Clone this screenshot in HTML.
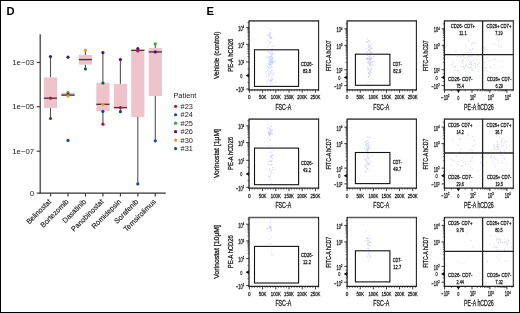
<!DOCTYPE html>
<html><head><meta charset="utf-8"><style>
html,body{margin:0;padding:0;background:#fff;}
svg{display:block;font-family:"Liberation Sans", sans-serif;}
.e text{font-weight:normal;stroke:#222;stroke-width:0.3px;}
svg{will-change:transform;}
</style></head><body>
<svg width="520" height="313" viewBox="0 0 520 313">
<text x="6.6" y="14.6" font-size="11.2" text-anchor="start" font-weight="bold" fill="#000" >D</text><text x="206.6" y="14.6" font-size="11.2" text-anchor="start" font-weight="bold" fill="#000" >E</text><line x1="50.5" y1="56.6" x2="50.5" y2="77.3" stroke="#555555" stroke-width="1.1" /><line x1="50.5" y1="108.0" x2="50.5" y2="118.5" stroke="#555555" stroke-width="1.1" /><rect x="43.9" y="77.3" width="13.2" height="30.700000000000003" fill="#eec3cb" stroke="none" stroke-width="1" /><line x1="43.9" y1="98.2" x2="57.1" y2="98.2" stroke="#4a3a3e" stroke-width="1.4" /><circle cx="50.5" cy="56.6" r="1.6" fill="#48146e"/><circle cx="50.5" cy="98.2" r="1.6" fill="#c8102e"/><circle cx="50.5" cy="118.5" r="1.6" fill="#144b94"/><rect x="61.4" y="92.6" width="13.2" height="3.3000000000000114" fill="#eec3cb" stroke="none" stroke-width="1" /><line x1="61.4" y1="95.1" x2="74.6" y2="95.1" stroke="#4a3a3e" stroke-width="1.4" /><circle cx="68.0" cy="57.2" r="1.6" fill="#48146e"/><circle cx="68.0" cy="92.5" r="1.6" fill="#2fae48"/><circle cx="68.0" cy="94.3" r="1.6" fill="#c8102e"/><circle cx="68.0" cy="96.0" r="1.6" fill="#f7931e"/><circle cx="68.0" cy="140.4" r="1.6" fill="#144b94"/><line x1="85.4" y1="50.2" x2="85.4" y2="55.0" stroke="#555555" stroke-width="1.1" /><line x1="85.4" y1="64.6" x2="85.4" y2="69.0" stroke="#555555" stroke-width="1.1" /><rect x="78.80000000000001" y="55.0" width="13.2" height="9.599999999999994" fill="#eec3cb" stroke="none" stroke-width="1" /><line x1="78.80000000000001" y1="59.6" x2="92.0" y2="59.6" stroke="#4a3a3e" stroke-width="1.4" /><circle cx="85.4" cy="50.2" r="1.6" fill="#f7931e"/><circle cx="85.4" cy="69.0" r="1.6" fill="#0d5c45"/><line x1="102.9" y1="52.6" x2="102.9" y2="82.7" stroke="#555555" stroke-width="1.1" /><line x1="102.9" y1="111.2" x2="102.9" y2="124.2" stroke="#555555" stroke-width="1.1" /><rect x="96.30000000000001" y="82.7" width="13.2" height="28.5" fill="#eec3cb" stroke="none" stroke-width="1" /><line x1="96.30000000000001" y1="104.3" x2="109.5" y2="104.3" stroke="#4a3a3e" stroke-width="1.4" /><circle cx="102.9" cy="52.6" r="1.6" fill="#48146e"/><circle cx="102.9" cy="83.0" r="1.6" fill="#0d5c45"/><circle cx="102.9" cy="104.3" r="1.6" fill="#f7931e"/><circle cx="102.9" cy="111.4" r="1.6" fill="#144b94"/><circle cx="102.9" cy="124.2" r="1.6" fill="#c8102e"/><line x1="120.4" y1="59.5" x2="120.4" y2="83.9" stroke="#555555" stroke-width="1.1" /><line x1="120.4" y1="108.6" x2="120.4" y2="111.7" stroke="#555555" stroke-width="1.1" /><rect x="113.80000000000001" y="83.9" width="13.2" height="24.69999999999999" fill="#eec3cb" stroke="none" stroke-width="1" /><line x1="113.80000000000001" y1="107.6" x2="127.0" y2="107.6" stroke="#4a3a3e" stroke-width="1.4" /><circle cx="120.4" cy="59.5" r="1.6" fill="#48146e"/><circle cx="120.4" cy="107.6" r="1.6" fill="#c8102e"/><circle cx="120.4" cy="111.7" r="1.6" fill="#144b94"/><line x1="137.8" y1="48.6" x2="137.8" y2="50.0" stroke="#555555" stroke-width="1.1" /><line x1="137.8" y1="117.0" x2="137.8" y2="183.9" stroke="#555555" stroke-width="1.1" /><rect x="131.20000000000002" y="50.0" width="13.2" height="67.0" fill="#eec3cb" stroke="none" stroke-width="1" /><line x1="131.20000000000002" y1="50.3" x2="144.4" y2="50.3" stroke="#4a3a3e" stroke-width="1.4" /><circle cx="137.8" cy="48.6" r="1.6" fill="#48146e"/><circle cx="137.8" cy="50.9" r="1.6" fill="#c8102e"/><circle cx="137.8" cy="183.9" r="1.6" fill="#144b94"/><line x1="155.3" y1="43.8" x2="155.3" y2="48.0" stroke="#555555" stroke-width="1.1" /><line x1="155.3" y1="96.1" x2="155.3" y2="140.8" stroke="#555555" stroke-width="1.1" /><rect x="148.70000000000002" y="48.0" width="13.2" height="48.099999999999994" fill="#eec3cb" stroke="none" stroke-width="1" /><line x1="148.70000000000002" y1="51.9" x2="161.9" y2="51.9" stroke="#4a3a3e" stroke-width="1.4" /><circle cx="155.3" cy="43.8" r="1.6" fill="#2fae48"/><circle cx="155.3" cy="51.9" r="1.6" fill="#48146e"/><circle cx="155.3" cy="140.8" r="1.6" fill="#144b94"/><line x1="40.2" y1="34.3" x2="40.2" y2="193.6" stroke="#333333" stroke-width="1.2" /><line x1="39.6" y1="193.1" x2="165.8" y2="193.1" stroke="#333333" stroke-width="1.2" /><line x1="36.7" y1="62.4" x2="40.2" y2="62.4" stroke="#333333" stroke-width="1.1" /><text x="34.2" y="65.0" font-size="7.8" text-anchor="end" font-weight="normal" fill="#222" >1e−03</text><line x1="36.7" y1="106.7" x2="40.2" y2="106.7" stroke="#333333" stroke-width="1.1" /><text x="34.2" y="109.3" font-size="7.8" text-anchor="end" font-weight="normal" fill="#222" >1e−05</text><line x1="36.7" y1="151.2" x2="40.2" y2="151.2" stroke="#333333" stroke-width="1.1" /><text x="34.2" y="153.79999999999998" font-size="7.8" text-anchor="end" font-weight="normal" fill="#222" >1e−07</text><line x1="36.7" y1="193.1" x2="40.2" y2="193.1" stroke="#333333" stroke-width="1.1" /><text x="34.2" y="195.7" font-size="7.8" text-anchor="end" font-weight="normal" fill="#222" >0</text><line x1="50.6" y1="193.1" x2="50.6" y2="196.6" stroke="#333333" stroke-width="1.1" /><text x="51.7" y="202.1" font-size="7.25" text-anchor="end" font-weight="normal" fill="#1a1a1a" transform="rotate(-45 51.7 202.1)" stroke="#1a1a1a" stroke-width="0.15">Belinostat</text><line x1="68.05" y1="193.1" x2="68.05" y2="196.6" stroke="#333333" stroke-width="1.1" /><text x="69.14999999999999" y="202.1" font-size="7.25" text-anchor="end" font-weight="normal" fill="#1a1a1a" transform="rotate(-45 69.14999999999999 202.1)" stroke="#1a1a1a" stroke-width="0.15">Bortezomib</text><line x1="85.5" y1="193.1" x2="85.5" y2="196.6" stroke="#333333" stroke-width="1.1" /><text x="86.6" y="202.1" font-size="7.25" text-anchor="end" font-weight="normal" fill="#1a1a1a" transform="rotate(-45 86.6 202.1)" stroke="#1a1a1a" stroke-width="0.15">Dasatinib</text><line x1="102.94999999999999" y1="193.1" x2="102.94999999999999" y2="196.6" stroke="#333333" stroke-width="1.1" /><text x="104.04999999999998" y="202.1" font-size="7.25" text-anchor="end" font-weight="normal" fill="#1a1a1a" transform="rotate(-45 104.04999999999998 202.1)" stroke="#1a1a1a" stroke-width="0.15">Panobinostat</text><line x1="120.4" y1="193.1" x2="120.4" y2="196.6" stroke="#333333" stroke-width="1.1" /><text x="121.5" y="202.1" font-size="7.25" text-anchor="end" font-weight="normal" fill="#1a1a1a" transform="rotate(-45 121.5 202.1)" stroke="#1a1a1a" stroke-width="0.15">Romidepsin</text><line x1="137.85" y1="193.1" x2="137.85" y2="196.6" stroke="#333333" stroke-width="1.1" /><text x="138.95" y="202.1" font-size="7.25" text-anchor="end" font-weight="normal" fill="#1a1a1a" transform="rotate(-45 138.95 202.1)" stroke="#1a1a1a" stroke-width="0.15">Sorafenib</text><line x1="155.29999999999998" y1="193.1" x2="155.29999999999998" y2="196.6" stroke="#333333" stroke-width="1.1" /><text x="156.39999999999998" y="202.1" font-size="7.25" text-anchor="end" font-weight="normal" fill="#1a1a1a" transform="rotate(-45 156.39999999999998 202.1)" stroke="#1a1a1a" stroke-width="0.15">Temsirolimus</text><text x="173.4" y="98.3" font-size="7.4" text-anchor="start" font-weight="normal" fill="#222" >Patient</text><circle cx="175.6" cy="106.3" r="1.6" fill="#c8102e"/><text x="180.6" y="108.89999999999999" font-size="7.4" text-anchor="start" font-weight="normal" fill="#222" >#23</text><circle cx="175.6" cy="114.75" r="1.6" fill="#144b94"/><text x="180.6" y="117.35" font-size="7.4" text-anchor="start" font-weight="normal" fill="#222" >#24</text><circle cx="175.6" cy="123.19999999999999" r="1.6" fill="#2fae48"/><text x="180.6" y="125.79999999999998" font-size="7.4" text-anchor="start" font-weight="normal" fill="#222" >#25</text><circle cx="175.6" cy="131.65" r="1.6" fill="#48146e"/><text x="180.6" y="134.25" font-size="7.4" text-anchor="start" font-weight="normal" fill="#222" >#26</text><circle cx="175.6" cy="140.1" r="1.6" fill="#f7931e"/><text x="180.6" y="142.7" font-size="7.4" text-anchor="start" font-weight="normal" fill="#222" >#30</text><circle cx="175.6" cy="148.55" r="1.6" fill="#0d5c45"/><text x="180.6" y="151.15" font-size="7.4" text-anchor="start" font-weight="normal" fill="#222" >#31</text><g class="e"><text x="219.3" y="55.3" font-size="7.8" text-anchor="middle" font-weight="normal" fill="#222" textLength="47.5" lengthAdjust="spacingAndGlyphs" transform="rotate(-90 219.3 55.3)" >Vehicle (control)</text><text x="219.3" y="153.6" font-size="7.8" text-anchor="middle" font-weight="normal" fill="#222" textLength="49.0" lengthAdjust="spacingAndGlyphs" transform="rotate(-90 219.3 153.6)" >Vorinostat [1μM]</text><text x="219.3" y="251.89999999999998" font-size="7.8" text-anchor="middle" font-weight="normal" fill="#222" textLength="53.9" lengthAdjust="spacingAndGlyphs" transform="rotate(-90 219.3 251.89999999999998)" >Vorinostat [10μM]</text><line x1="252.04" y1="89.8" x2="252.04" y2="91.39999999999999" stroke="#444" stroke-width="0.7" /><line x1="254.68" y1="89.8" x2="254.68" y2="91.39999999999999" stroke="#444" stroke-width="0.7" /><line x1="257.32" y1="89.8" x2="257.32" y2="91.39999999999999" stroke="#444" stroke-width="0.7" /><line x1="259.96" y1="89.8" x2="259.96" y2="91.39999999999999" stroke="#444" stroke-width="0.7" /><line x1="265.24" y1="89.8" x2="265.24" y2="91.39999999999999" stroke="#444" stroke-width="0.7" /><line x1="267.88" y1="89.8" x2="267.88" y2="91.39999999999999" stroke="#444" stroke-width="0.7" /><line x1="270.52" y1="89.8" x2="270.52" y2="91.39999999999999" stroke="#444" stroke-width="0.7" /><line x1="273.16" y1="89.8" x2="273.16" y2="91.39999999999999" stroke="#444" stroke-width="0.7" /><line x1="278.44" y1="89.8" x2="278.44" y2="91.39999999999999" stroke="#444" stroke-width="0.7" /><line x1="281.08" y1="89.8" x2="281.08" y2="91.39999999999999" stroke="#444" stroke-width="0.7" /><line x1="283.72" y1="89.8" x2="283.72" y2="91.39999999999999" stroke="#444" stroke-width="0.7" /><line x1="286.36" y1="89.8" x2="286.36" y2="91.39999999999999" stroke="#444" stroke-width="0.7" /><line x1="291.64" y1="89.8" x2="291.64" y2="91.39999999999999" stroke="#444" stroke-width="0.7" /><line x1="294.28" y1="89.8" x2="294.28" y2="91.39999999999999" stroke="#444" stroke-width="0.7" /><line x1="296.92" y1="89.8" x2="296.92" y2="91.39999999999999" stroke="#444" stroke-width="0.7" /><line x1="299.56" y1="89.8" x2="299.56" y2="91.39999999999999" stroke="#444" stroke-width="0.7" /><line x1="304.84000000000003" y1="89.8" x2="304.84000000000003" y2="91.39999999999999" stroke="#444" stroke-width="0.7" /><line x1="307.48" y1="89.8" x2="307.48" y2="91.39999999999999" stroke="#444" stroke-width="0.7" /><line x1="310.12" y1="89.8" x2="310.12" y2="91.39999999999999" stroke="#444" stroke-width="0.7" /><line x1="312.76" y1="89.8" x2="312.76" y2="91.39999999999999" stroke="#444" stroke-width="0.7" /><line x1="318.04" y1="89.8" x2="318.04" y2="91.39999999999999" stroke="#444" stroke-width="0.7" /><line x1="247.4" y1="56.67176907674753" x2="249.0" y2="56.67176907674753" stroke="#444" stroke-width="0.7" /><line x1="247.4" y1="53.55495379146197" x2="249.0" y2="53.55495379146197" stroke="#444" stroke-width="0.7" /><line x1="247.4" y1="51.34353815349506" x2="249.0" y2="51.34353815349506" stroke="#444" stroke-width="0.7" /><line x1="247.4" y1="49.62823092325247" x2="249.0" y2="49.62823092325247" stroke="#444" stroke-width="0.7" /><line x1="247.4" y1="48.22672286820951" x2="249.0" y2="48.22672286820951" stroke="#444" stroke-width="0.7" /><line x1="247.4" y1="47.04176469174765" x2="249.0" y2="47.04176469174765" stroke="#444" stroke-width="0.7" /><line x1="247.4" y1="46.0153072302426" x2="249.0" y2="46.0153072302426" stroke="#444" stroke-width="0.7" /><line x1="247.4" y1="45.109907582923945" x2="249.0" y2="45.109907582923945" stroke="#444" stroke-width="0.7" /><line x1="247.4" y1="39.272799072411516" x2="249.0" y2="39.272799072411516" stroke="#444" stroke-width="0.7" /><line x1="247.4" y1="36.332075046181636" x2="249.0" y2="36.332075046181636" stroke="#444" stroke-width="0.7" /><line x1="247.4" y1="34.24559814482303" x2="249.0" y2="34.24559814482303" stroke="#444" stroke-width="0.7" /><line x1="247.4" y1="32.62720092758848" x2="249.0" y2="32.62720092758848" stroke="#444" stroke-width="0.7" /><line x1="247.4" y1="31.30487411859315" x2="249.0" y2="31.30487411859315" stroke="#444" stroke-width="0.7" /><line x1="247.4" y1="30.186862731761913" x2="249.0" y2="30.186862731761913" stroke="#444" stroke-width="0.7" /><line x1="247.4" y1="29.218397217234546" x2="249.0" y2="29.218397217234546" stroke="#444" stroke-width="0.7" /><line x1="247.4" y1="28.364150092363275" x2="249.0" y2="28.364150092363275" stroke="#444" stroke-width="0.7" /><line x1="247.4" y1="22.572799072411517" x2="249.0" y2="22.572799072411517" stroke="#444" stroke-width="0.7" /><line x1="247.4" y1="68.8" x2="249.0" y2="68.8" stroke="#444" stroke-width="0.7" /><line x1="247.4" y1="82.3" x2="249.0" y2="82.3" stroke="#444" stroke-width="0.7" /><line x1="246.2" y1="27.6" x2="249.0" y2="27.6" stroke="#222" stroke-width="0.9" /><g transform="translate(244.20 31.00) scale(0.62 1)"><text x="0" y="0" font-size="6.4" text-anchor="end" fill="#333">10<tspan font-size="4.10" dy="-2.6">4</tspan></text></g><line x1="246.2" y1="44.3" x2="249.0" y2="44.3" stroke="#222" stroke-width="0.9" /><g transform="translate(244.20 47.70) scale(0.62 1)"><text x="0" y="0" font-size="6.4" text-anchor="end" fill="#333">10<tspan font-size="4.10" dy="-2.6">3</tspan></text></g><line x1="246.2" y1="62.0" x2="249.0" y2="62.0" stroke="#222" stroke-width="0.9" /><g transform="translate(244.20 65.40) scale(0.62 1)"><text x="0" y="0" font-size="6.4" text-anchor="end" fill="#333">10<tspan font-size="4.10" dy="-2.6">2</tspan></text></g><line x1="246.2" y1="75.6" x2="249.0" y2="75.6" stroke="#222" stroke-width="0.9" /><g transform="translate(241.20 77.90) scale(0.62 1)"><text x="0" y="0" font-size="6.2" text-anchor="middle" fill="#333">0</text></g><line x1="246.2" y1="89.0" x2="249.0" y2="89.0" stroke="#222" stroke-width="0.9" /><g transform="translate(244.20 92.40) scale(0.62 1)"><text x="0" y="0" font-size="6.4" text-anchor="end" fill="#333">−10<tspan font-size="4.10" dy="-2.6">2</tspan></text></g><path d="M249.0 73.40L246.00 75.60L249.0 77.80z" fill="#111"/><line x1="249.4" y1="89.8" x2="249.4" y2="92.8" stroke="#222" stroke-width="0.9" /><text x="249.4" y="99.39999999999999" font-size="5.6" text-anchor="middle" font-weight="normal" fill="#333" textLength="2.6" lengthAdjust="spacingAndGlyphs" >0</text><line x1="262.6" y1="89.8" x2="262.6" y2="92.8" stroke="#222" stroke-width="0.9" /><text x="262.6" y="99.39999999999999" font-size="5.6" text-anchor="middle" font-weight="normal" fill="#333" textLength="7.6" lengthAdjust="spacingAndGlyphs" >50K</text><line x1="275.8" y1="89.8" x2="275.8" y2="92.8" stroke="#222" stroke-width="0.9" /><text x="275.8" y="99.39999999999999" font-size="5.6" text-anchor="middle" font-weight="normal" fill="#333" textLength="9.9" lengthAdjust="spacingAndGlyphs" >100K</text><line x1="289.0" y1="89.8" x2="289.0" y2="92.8" stroke="#222" stroke-width="0.9" /><text x="289.0" y="99.39999999999999" font-size="5.6" text-anchor="middle" font-weight="normal" fill="#333" textLength="9.9" lengthAdjust="spacingAndGlyphs" >150K</text><line x1="302.2" y1="89.8" x2="302.2" y2="92.8" stroke="#222" stroke-width="0.9" /><text x="302.2" y="99.39999999999999" font-size="5.6" text-anchor="middle" font-weight="normal" fill="#333" textLength="9.9" lengthAdjust="spacingAndGlyphs" >200K</text><line x1="315.4" y1="89.8" x2="315.4" y2="92.8" stroke="#222" stroke-width="0.9" /><text x="315.4" y="99.39999999999999" font-size="5.6" text-anchor="middle" font-weight="normal" fill="#333" textLength="9.9" lengthAdjust="spacingAndGlyphs" >250K</text><text x="283.3" y="109.6" font-size="8.2" text-anchor="middle" font-weight="normal" fill="#222" textLength="15.8" lengthAdjust="spacingAndGlyphs" >FSC-A</text><text x="232.8" y="55.14999999999999" font-size="7.0" text-anchor="middle" font-weight="normal" fill="#222" textLength="33.0" lengthAdjust="spacingAndGlyphs" transform="rotate(-90 232.8 55.14999999999999)" >PE-A hCD26</text><path d="M269.4 38.3h0.9v0.9h-0.9zM269.5 34.6h0.9v0.9h-0.9zM268.5 35.0h0.9v0.9h-0.9zM271.4 37.9h0.9v0.9h-0.9zM271.3 37.1h0.9v0.9h-0.9zM270.4 36.8h0.9v0.9h-0.9zM267.5 39.8h0.9v0.9h-0.9zM270.5 38.2h0.9v0.9h-0.9zM267.4 28.2h0.9v0.9h-0.9zM268.6 33.9h0.9v0.9h-0.9zM270.2 35.8h0.9v0.9h-0.9zM270.5 33.1h0.9v0.9h-0.9zM270.2 37.8h0.9v0.9h-0.9zM268.9 43.7h0.9v0.9h-0.9zM270.6 41.4h0.9v0.9h-0.9zM268.9 32.7h0.9v0.9h-0.9zM269.3 35.5h0.9v0.9h-0.9zM270.7 37.1h0.9v0.9h-0.9zM269.2 31.7h0.9v0.9h-0.9zM269.1 41.5h0.9v0.9h-0.9zM268.7 37.1h0.9v0.9h-0.9zM270.4 29.3h0.9v0.9h-0.9zM269.9 41.9h0.9v0.9h-0.9zM267.0 34.6h0.9v0.9h-0.9zM269.7 32.3h0.9v0.9h-0.9zM270.8 58.7h0.9v0.9h-0.9zM267.7 63.1h0.9v0.9h-0.9zM271.1 63.7h0.9v0.9h-0.9zM272.3 60.8h0.9v0.9h-0.9zM270.2 52.5h0.9v0.9h-0.9zM271.0 55.9h0.9v0.9h-0.9zM269.3 52.7h0.9v0.9h-0.9zM268.5 56.3h0.9v0.9h-0.9zM272.1 48.8h0.9v0.9h-0.9zM267.7 60.2h0.9v0.9h-0.9zM272.3 61.9h0.9v0.9h-0.9zM267.0 46.4h0.9v0.9h-0.9zM270.6 55.3h0.9v0.9h-0.9zM268.2 63.9h0.9v0.9h-0.9zM271.8 59.8h0.9v0.9h-0.9zM270.4 61.2h0.9v0.9h-0.9zM272.6 62.1h0.9v0.9h-0.9zM270.8 61.7h0.9v0.9h-0.9zM267.5 65.4h0.9v0.9h-0.9zM271.5 61.6h0.9v0.9h-0.9zM266.8 55.8h0.9v0.9h-0.9zM271.3 49.9h0.9v0.9h-0.9zM269.7 64.1h0.9v0.9h-0.9zM267.9 67.1h0.9v0.9h-0.9zM270.9 58.2h0.9v0.9h-0.9zM270.5 62.2h0.9v0.9h-0.9zM270.2 64.7h0.9v0.9h-0.9zM268.9 56.9h0.9v0.9h-0.9zM271.7 59.1h0.9v0.9h-0.9zM268.6 63.7h0.9v0.9h-0.9zM272.3 56.8h0.9v0.9h-0.9zM267.8 58.3h0.9v0.9h-0.9zM269.8 57.5h0.9v0.9h-0.9zM272.2 53.9h0.9v0.9h-0.9zM272.0 52.7h0.9v0.9h-0.9zM268.7 62.2h0.9v0.9h-0.9zM271.8 63.3h0.9v0.9h-0.9zM270.6 59.7h0.9v0.9h-0.9zM270.2 61.9h0.9v0.9h-0.9zM269.7 60.4h0.9v0.9h-0.9zM270.9 59.0h0.9v0.9h-0.9zM271.2 61.8h0.9v0.9h-0.9zM273.2 60.6h0.9v0.9h-0.9zM269.3 57.1h0.9v0.9h-0.9zM270.0 63.6h0.9v0.9h-0.9zM269.5 60.9h0.9v0.9h-0.9zM272.9 46.2h0.9v0.9h-0.9zM268.2 60.2h0.9v0.9h-0.9zM270.6 60.2h0.9v0.9h-0.9zM269.3 62.3h0.9v0.9h-0.9zM270.5 56.4h0.9v0.9h-0.9zM273.9 60.8h0.9v0.9h-0.9zM269.1 58.5h0.9v0.9h-0.9zM269.6 58.7h0.9v0.9h-0.9zM265.6 56.6h0.9v0.9h-0.9zM271.6 53.2h0.9v0.9h-0.9zM269.9 63.8h0.9v0.9h-0.9zM271.4 66.5h0.9v0.9h-0.9zM267.3 57.2h0.9v0.9h-0.9zM269.5 62.1h0.9v0.9h-0.9zM271.7 45.6h0.9v0.9h-0.9zM271.7 51.8h0.9v0.9h-0.9zM271.1 51.5h0.9v0.9h-0.9zM270.3 65.0h0.9v0.9h-0.9zM269.8 60.0h0.9v0.9h-0.9zM271.3 59.7h0.9v0.9h-0.9zM269.9 66.7h0.9v0.9h-0.9zM271.7 57.5h0.9v0.9h-0.9zM274.4 53.3h0.9v0.9h-0.9zM271.5 57.7h0.9v0.9h-0.9zM270.2 62.5h0.9v0.9h-0.9zM270.4 62.2h0.9v0.9h-0.9zM267.6 51.5h0.9v0.9h-0.9zM271.0 54.2h0.9v0.9h-0.9zM268.4 51.6h0.9v0.9h-0.9zM272.0 62.7h0.9v0.9h-0.9zM272.4 54.3h0.9v0.9h-0.9zM270.0 53.3h0.9v0.9h-0.9zM271.2 66.9h0.9v0.9h-0.9zM268.6 66.8h0.9v0.9h-0.9zM271.6 58.1h0.9v0.9h-0.9zM266.8 66.0h0.9v0.9h-0.9zM269.8 56.0h0.9v0.9h-0.9zM270.6 61.0h0.9v0.9h-0.9zM272.4 53.9h0.9v0.9h-0.9zM271.8 66.4h0.9v0.9h-0.9zM272.3 58.1h0.9v0.9h-0.9zM268.8 64.1h0.9v0.9h-0.9zM270.2 59.6h0.9v0.9h-0.9zM272.3 57.7h0.9v0.9h-0.9zM266.1 71.3h0.9v0.9h-0.9zM266.9 79.7h0.9v0.9h-0.9zM270.8 69.7h0.9v0.9h-0.9zM270.2 79.8h0.9v0.9h-0.9zM270.3 83.3h0.9v0.9h-0.9zM270.1 81.3h0.9v0.9h-0.9zM272.9 85.3h0.9v0.9h-0.9zM269.0 80.2h0.9v0.9h-0.9zM266.8 66.4h0.9v0.9h-0.9zM266.7 81.5h0.9v0.9h-0.9zM268.0 73.9h0.9v0.9h-0.9zM269.9 73.8h0.9v0.9h-0.9zM269.1 75.6h0.9v0.9h-0.9zM273.4 74.3h0.9v0.9h-0.9zM271.2 81.0h0.9v0.9h-0.9zM269.8 65.2h0.9v0.9h-0.9zM269.2 81.5h0.9v0.9h-0.9zM267.2 69.8h0.9v0.9h-0.9zM272.0 79.5h0.9v0.9h-0.9zM270.2 79.6h0.9v0.9h-0.9zM270.5 65.7h0.9v0.9h-0.9zM267.4 69.5h0.9v0.9h-0.9zM271.9 70.0h0.9v0.9h-0.9zM268.6 68.6h0.9v0.9h-0.9zM267.4 73.2h0.9v0.9h-0.9zM268.1 76.5h0.9v0.9h-0.9zM266.0 76.3h0.9v0.9h-0.9zM269.0 60.4h0.9v0.9h-0.9zM271.5 72.1h0.9v0.9h-0.9zM266.2 67.9h0.9v0.9h-0.9zM270.7 70.8h0.9v0.9h-0.9zM271.6 79.2h0.9v0.9h-0.9zM271.4 76.3h0.9v0.9h-0.9zM272.6 78.6h0.9v0.9h-0.9zM271.0 59.4h0.9v0.9h-0.9zM271.8 83.2h0.9v0.9h-0.9zM269.7 70.7h0.9v0.9h-0.9zM273.7 61.7h0.9v0.9h-0.9zM268.5 78.8h0.9v0.9h-0.9zM273.6 73.2h0.9v0.9h-0.9zM271.2 80.3h0.9v0.9h-0.9zM268.6 73.4h0.9v0.9h-0.9zM270.7 79.8h0.9v0.9h-0.9zM270.1 72.6h0.9v0.9h-0.9zM268.4 71.5h0.9v0.9h-0.9zM271.8 74.7h0.9v0.9h-0.9zM268.7 68.1h0.9v0.9h-0.9zM275.0 82.0h0.9v0.9h-0.9zM271.3 55.8h0.9v0.9h-0.9zM271.3 77.4h0.9v0.9h-0.9z" fill="rgba(90,100,235,0.32)"/><line x1="249.0" y1="20.9" x2="319.1" y2="20.9" stroke="#5a5a5a" stroke-width="1.7" /><line x1="249.0" y1="20.4" x2="249.0" y2="90.39999999999999" stroke="#222" stroke-width="1.3" /><line x1="318.6" y1="20.4" x2="318.6" y2="90.39999999999999" stroke="#222" stroke-width="1.1" /><line x1="248.4" y1="89.8" x2="319.1" y2="89.8" stroke="#222" stroke-width="1.3" /><rect x="254.5" y="49.8" width="44.10000000000002" height="36.60000000000001" fill="none" stroke="#111" stroke-width="1.1" /><text x="307.0" y="65.6" font-size="5.9" text-anchor="middle" font-weight="normal" fill="#222" textLength="12.1" lengthAdjust="spacingAndGlyphs" >CD26-</text><text x="307.0" y="72.5" font-size="5.9" text-anchor="middle" font-weight="normal" fill="#222" textLength="8.0" lengthAdjust="spacingAndGlyphs" >83.8</text><line x1="349.72400000000005" y1="89.8" x2="349.72400000000005" y2="91.39999999999999" stroke="#444" stroke-width="0.7" /><line x1="352.348" y1="89.8" x2="352.348" y2="91.39999999999999" stroke="#444" stroke-width="0.7" /><line x1="354.97200000000004" y1="89.8" x2="354.97200000000004" y2="91.39999999999999" stroke="#444" stroke-width="0.7" /><line x1="357.596" y1="89.8" x2="357.596" y2="91.39999999999999" stroke="#444" stroke-width="0.7" /><line x1="362.84400000000005" y1="89.8" x2="362.84400000000005" y2="91.39999999999999" stroke="#444" stroke-width="0.7" /><line x1="365.468" y1="89.8" x2="365.468" y2="91.39999999999999" stroke="#444" stroke-width="0.7" /><line x1="368.09200000000004" y1="89.8" x2="368.09200000000004" y2="91.39999999999999" stroke="#444" stroke-width="0.7" /><line x1="370.716" y1="89.8" x2="370.716" y2="91.39999999999999" stroke="#444" stroke-width="0.7" /><line x1="375.964" y1="89.8" x2="375.964" y2="91.39999999999999" stroke="#444" stroke-width="0.7" /><line x1="378.588" y1="89.8" x2="378.588" y2="91.39999999999999" stroke="#444" stroke-width="0.7" /><line x1="381.21200000000005" y1="89.8" x2="381.21200000000005" y2="91.39999999999999" stroke="#444" stroke-width="0.7" /><line x1="383.836" y1="89.8" x2="383.836" y2="91.39999999999999" stroke="#444" stroke-width="0.7" /><line x1="389.084" y1="89.8" x2="389.084" y2="91.39999999999999" stroke="#444" stroke-width="0.7" /><line x1="391.708" y1="89.8" x2="391.708" y2="91.39999999999999" stroke="#444" stroke-width="0.7" /><line x1="394.332" y1="89.8" x2="394.332" y2="91.39999999999999" stroke="#444" stroke-width="0.7" /><line x1="396.956" y1="89.8" x2="396.956" y2="91.39999999999999" stroke="#444" stroke-width="0.7" /><line x1="402.204" y1="89.8" x2="402.204" y2="91.39999999999999" stroke="#444" stroke-width="0.7" /><line x1="404.82800000000003" y1="89.8" x2="404.82800000000003" y2="91.39999999999999" stroke="#444" stroke-width="0.7" /><line x1="407.452" y1="89.8" x2="407.452" y2="91.39999999999999" stroke="#444" stroke-width="0.7" /><line x1="410.076" y1="89.8" x2="410.076" y2="91.39999999999999" stroke="#444" stroke-width="0.7" /><line x1="415.324" y1="89.8" x2="415.324" y2="91.39999999999999" stroke="#444" stroke-width="0.7" /><line x1="345.5" y1="62.424765106232456" x2="347.1" y2="62.424765106232456" stroke="#444" stroke-width="0.7" /><line x1="345.5" y1="58.11052925936826" x2="347.1" y2="58.11052925936826" stroke="#444" stroke-width="0.7" /><line x1="345.5" y1="55.049530212464916" x2="347.1" y2="55.049530212464916" stroke="#444" stroke-width="0.7" /><line x1="345.5" y1="52.67523489376754" x2="347.1" y2="52.67523489376754" stroke="#444" stroke-width="0.7" /><line x1="345.5" y1="50.73529436560073" x2="347.1" y2="50.73529436560073" stroke="#444" stroke-width="0.7" /><line x1="345.5" y1="49.095098019650706" x2="347.1" y2="49.095098019650706" stroke="#444" stroke-width="0.7" /><line x1="345.5" y1="47.67429531869738" x2="347.1" y2="47.67429531869738" stroke="#444" stroke-width="0.7" /><line x1="345.5" y1="46.42105851873654" x2="347.1" y2="46.42105851873654" stroke="#444" stroke-width="0.7" /><line x1="345.5" y1="40.33300507154431" x2="347.1" y2="40.33300507154431" stroke="#444" stroke-width="0.7" /><line x1="345.5" y1="37.42749929712557" x2="347.1" y2="37.42749929712557" stroke="#444" stroke-width="0.7" /><line x1="345.5" y1="35.366010143088616" x2="347.1" y2="35.366010143088616" stroke="#444" stroke-width="0.7" /><line x1="345.5" y1="33.76699492845569" x2="347.1" y2="33.76699492845569" stroke="#444" stroke-width="0.7" /><line x1="345.5" y1="32.46050436866988" x2="347.1" y2="32.46050436866988" stroke="#444" stroke-width="0.7" /><line x1="345.5" y1="31.35588233976476" x2="347.1" y2="31.35588233976476" stroke="#444" stroke-width="0.7" /><line x1="345.5" y1="30.399015214632932" x2="347.1" y2="30.399015214632932" stroke="#444" stroke-width="0.7" /><line x1="345.5" y1="29.55499859425114" x2="347.1" y2="29.55499859425114" stroke="#444" stroke-width="0.7" /><line x1="345.5" y1="23.833005071544314" x2="347.1" y2="23.833005071544314" stroke="#444" stroke-width="0.7" /><line x1="345.5" y1="73.6" x2="347.1" y2="73.6" stroke="#444" stroke-width="0.7" /><line x1="345.5" y1="81.5" x2="347.1" y2="81.5" stroke="#444" stroke-width="0.7" /><line x1="344.3" y1="28.8" x2="347.1" y2="28.8" stroke="#222" stroke-width="0.9" /><g transform="translate(342.30 32.20) scale(0.62 1)"><text x="0" y="0" font-size="6.4" text-anchor="end" fill="#333">10<tspan font-size="4.10" dy="-2.6">4</tspan></text></g><line x1="344.3" y1="45.3" x2="347.1" y2="45.3" stroke="#222" stroke-width="0.9" /><g transform="translate(342.30 48.70) scale(0.62 1)"><text x="0" y="0" font-size="6.4" text-anchor="end" fill="#333">10<tspan font-size="4.10" dy="-2.6">3</tspan></text></g><line x1="344.3" y1="69.8" x2="347.1" y2="69.8" stroke="#222" stroke-width="0.9" /><g transform="translate(342.30 73.20) scale(0.62 1)"><text x="0" y="0" font-size="6.4" text-anchor="end" fill="#333">10<tspan font-size="4.10" dy="-2.6">2</tspan></text></g><line x1="344.3" y1="77.4" x2="347.1" y2="77.4" stroke="#222" stroke-width="0.9" /><g transform="translate(339.30 79.70) scale(0.62 1)"><text x="0" y="0" font-size="6.2" text-anchor="middle" fill="#333">0</text></g><line x1="344.3" y1="85.6" x2="347.1" y2="85.6" stroke="#222" stroke-width="0.9" /><g transform="translate(342.30 89.00) scale(0.62 1)"><text x="0" y="0" font-size="6.4" text-anchor="end" fill="#333">−10<tspan font-size="4.10" dy="-2.6">2</tspan></text></g><path d="M347.1 75.20L344.10 77.40L347.1 79.60z" fill="#111"/><line x1="347.1" y1="89.8" x2="347.1" y2="92.8" stroke="#222" stroke-width="0.9" /><text x="347.1" y="99.39999999999999" font-size="5.6" text-anchor="middle" font-weight="normal" fill="#333" textLength="2.6" lengthAdjust="spacingAndGlyphs" >0</text><line x1="360.22" y1="89.8" x2="360.22" y2="92.8" stroke="#222" stroke-width="0.9" /><text x="360.22" y="99.39999999999999" font-size="5.6" text-anchor="middle" font-weight="normal" fill="#333" textLength="7.6" lengthAdjust="spacingAndGlyphs" >50K</text><line x1="373.34000000000003" y1="89.8" x2="373.34000000000003" y2="92.8" stroke="#222" stroke-width="0.9" /><text x="373.34000000000003" y="99.39999999999999" font-size="5.6" text-anchor="middle" font-weight="normal" fill="#333" textLength="9.9" lengthAdjust="spacingAndGlyphs" >100K</text><line x1="386.46000000000004" y1="89.8" x2="386.46000000000004" y2="92.8" stroke="#222" stroke-width="0.9" /><text x="386.46000000000004" y="99.39999999999999" font-size="5.6" text-anchor="middle" font-weight="normal" fill="#333" textLength="9.9" lengthAdjust="spacingAndGlyphs" >150K</text><line x1="399.58000000000004" y1="89.8" x2="399.58000000000004" y2="92.8" stroke="#222" stroke-width="0.9" /><text x="399.58000000000004" y="99.39999999999999" font-size="5.6" text-anchor="middle" font-weight="normal" fill="#333" textLength="9.9" lengthAdjust="spacingAndGlyphs" >200K</text><line x1="412.70000000000005" y1="89.8" x2="412.70000000000005" y2="92.8" stroke="#222" stroke-width="0.9" /><text x="412.70000000000005" y="99.39999999999999" font-size="5.6" text-anchor="middle" font-weight="normal" fill="#333" textLength="9.9" lengthAdjust="spacingAndGlyphs" >250K</text><text x="381.25" y="109.6" font-size="8.2" text-anchor="middle" font-weight="normal" fill="#222" textLength="15.8" lengthAdjust="spacingAndGlyphs" >FSC-A</text><text x="331.2" y="55.74999999999999" font-size="7.0" text-anchor="middle" font-weight="normal" fill="#222" textLength="31.0" lengthAdjust="spacingAndGlyphs" transform="rotate(-90 331.2 55.74999999999999)" >FITC-A hCD7</text><path d="M371.2 45.7h0.9v0.9h-0.9zM368.7 46.1h0.9v0.9h-0.9zM366.1 48.1h0.9v0.9h-0.9zM369.3 41.2h0.9v0.9h-0.9zM370.7 51.2h0.9v0.9h-0.9zM366.8 41.3h0.9v0.9h-0.9zM369.2 44.7h0.9v0.9h-0.9zM368.2 40.1h0.9v0.9h-0.9zM371.8 48.1h0.9v0.9h-0.9zM367.1 38.6h0.9v0.9h-0.9zM371.2 48.0h0.9v0.9h-0.9zM371.3 47.2h0.9v0.9h-0.9zM367.6 45.0h0.9v0.9h-0.9zM365.8 41.0h0.9v0.9h-0.9zM368.7 46.1h0.9v0.9h-0.9zM367.8 43.5h0.9v0.9h-0.9zM369.4 45.5h0.9v0.9h-0.9zM369.7 44.8h0.9v0.9h-0.9zM368.3 47.2h0.9v0.9h-0.9zM368.9 40.7h0.9v0.9h-0.9zM367.9 58.0h0.9v0.9h-0.9zM368.8 58.9h0.9v0.9h-0.9zM369.0 59.1h0.9v0.9h-0.9zM368.8 50.4h0.9v0.9h-0.9zM369.7 64.3h0.9v0.9h-0.9zM369.7 56.9h0.9v0.9h-0.9zM369.8 52.2h0.9v0.9h-0.9zM365.8 58.4h0.9v0.9h-0.9zM367.4 62.4h0.9v0.9h-0.9zM367.2 42.2h0.9v0.9h-0.9zM367.2 67.5h0.9v0.9h-0.9zM368.4 49.8h0.9v0.9h-0.9zM367.7 61.1h0.9v0.9h-0.9zM369.8 59.1h0.9v0.9h-0.9zM371.5 62.2h0.9v0.9h-0.9zM369.0 61.6h0.9v0.9h-0.9zM371.8 63.8h0.9v0.9h-0.9zM370.7 51.5h0.9v0.9h-0.9zM368.7 62.4h0.9v0.9h-0.9zM368.5 64.4h0.9v0.9h-0.9zM370.0 63.4h0.9v0.9h-0.9zM368.6 73.3h0.9v0.9h-0.9zM371.1 56.7h0.9v0.9h-0.9zM369.2 73.6h0.9v0.9h-0.9zM368.4 63.2h0.9v0.9h-0.9zM370.7 58.0h0.9v0.9h-0.9zM367.0 59.1h0.9v0.9h-0.9zM369.6 64.8h0.9v0.9h-0.9zM370.3 58.1h0.9v0.9h-0.9zM370.5 61.2h0.9v0.9h-0.9zM369.4 58.3h0.9v0.9h-0.9zM368.6 62.1h0.9v0.9h-0.9zM367.2 54.2h0.9v0.9h-0.9zM369.0 49.2h0.9v0.9h-0.9zM368.3 45.9h0.9v0.9h-0.9zM367.8 61.4h0.9v0.9h-0.9zM370.0 57.7h0.9v0.9h-0.9zM368.6 49.5h0.9v0.9h-0.9zM372.1 61.1h0.9v0.9h-0.9zM370.9 52.7h0.9v0.9h-0.9zM368.7 47.1h0.9v0.9h-0.9zM370.3 63.6h0.9v0.9h-0.9zM365.8 57.7h0.9v0.9h-0.9zM370.1 47.4h0.9v0.9h-0.9zM365.9 51.6h0.9v0.9h-0.9zM367.9 49.6h0.9v0.9h-0.9zM369.1 59.5h0.9v0.9h-0.9zM370.1 62.2h0.9v0.9h-0.9zM371.6 65.0h0.9v0.9h-0.9zM366.8 55.0h0.9v0.9h-0.9zM367.2 51.5h0.9v0.9h-0.9zM368.9 58.0h0.9v0.9h-0.9zM369.8 48.5h0.9v0.9h-0.9zM366.9 57.9h0.9v0.9h-0.9zM368.7 56.1h0.9v0.9h-0.9zM368.9 53.4h0.9v0.9h-0.9zM370.2 60.1h0.9v0.9h-0.9zM368.9 54.0h0.9v0.9h-0.9zM368.7 41.7h0.9v0.9h-0.9zM367.3 58.2h0.9v0.9h-0.9zM366.4 59.2h0.9v0.9h-0.9zM369.3 49.7h0.9v0.9h-0.9zM368.6 56.1h0.9v0.9h-0.9zM369.8 61.7h0.9v0.9h-0.9zM368.9 52.9h0.9v0.9h-0.9zM368.8 57.6h0.9v0.9h-0.9zM370.2 59.8h0.9v0.9h-0.9zM367.8 49.9h0.9v0.9h-0.9zM368.4 53.6h0.9v0.9h-0.9zM367.1 57.3h0.9v0.9h-0.9zM368.2 58.6h0.9v0.9h-0.9zM369.9 55.5h0.9v0.9h-0.9zM373.0 56.1h0.9v0.9h-0.9zM370.9 58.7h0.9v0.9h-0.9zM370.9 43.7h0.9v0.9h-0.9zM367.7 59.5h0.9v0.9h-0.9zM370.0 72.0h0.9v0.9h-0.9zM369.5 65.7h0.9v0.9h-0.9zM370.3 63.7h0.9v0.9h-0.9zM369.9 57.1h0.9v0.9h-0.9zM369.9 51.5h0.9v0.9h-0.9zM371.0 51.9h0.9v0.9h-0.9zM369.4 70.7h0.9v0.9h-0.9zM368.6 58.1h0.9v0.9h-0.9zM371.0 58.2h0.9v0.9h-0.9zM367.6 59.5h0.9v0.9h-0.9zM370.0 62.3h0.9v0.9h-0.9zM367.7 68.5h0.9v0.9h-0.9zM371.8 58.1h0.9v0.9h-0.9zM369.5 55.4h0.9v0.9h-0.9zM371.5 67.8h0.9v0.9h-0.9zM370.3 69.1h0.9v0.9h-0.9zM368.1 76.3h0.9v0.9h-0.9zM371.3 71.9h0.9v0.9h-0.9zM368.1 76.9h0.9v0.9h-0.9zM369.1 73.9h0.9v0.9h-0.9zM371.6 78.8h0.9v0.9h-0.9zM368.4 85.7h0.9v0.9h-0.9zM369.2 76.7h0.9v0.9h-0.9zM368.2 71.7h0.9v0.9h-0.9zM366.4 82.7h0.9v0.9h-0.9zM371.4 64.7h0.9v0.9h-0.9zM366.8 62.3h0.9v0.9h-0.9zM371.1 69.2h0.9v0.9h-0.9zM369.1 70.1h0.9v0.9h-0.9zM369.0 65.5h0.9v0.9h-0.9zM369.2 63.4h0.9v0.9h-0.9zM369.1 73.9h0.9v0.9h-0.9zM369.9 70.6h0.9v0.9h-0.9zM367.8 73.0h0.9v0.9h-0.9zM368.4 81.4h0.9v0.9h-0.9zM370.4 71.3h0.9v0.9h-0.9zM368.4 67.8h0.9v0.9h-0.9zM367.7 69.9h0.9v0.9h-0.9zM369.7 75.1h0.9v0.9h-0.9zM370.1 84.6h0.9v0.9h-0.9zM368.1 72.1h0.9v0.9h-0.9zM373.7 60.8h0.9v0.9h-0.9zM368.4 73.0h0.9v0.9h-0.9zM369.4 74.4h0.9v0.9h-0.9z" fill="rgba(90,100,235,0.32)"/><line x1="347.1" y1="20.9" x2="416.9" y2="20.9" stroke="#5a5a5a" stroke-width="1.7" /><line x1="347.1" y1="20.4" x2="347.1" y2="90.39999999999999" stroke="#222" stroke-width="1.3" /><line x1="416.4" y1="20.4" x2="416.4" y2="90.39999999999999" stroke="#222" stroke-width="1.1" /><line x1="346.5" y1="89.8" x2="416.9" y2="89.8" stroke="#222" stroke-width="1.3" /><rect x="355.4" y="54.2" width="34.5" height="31.099999999999994" fill="none" stroke="#111" stroke-width="1.1" /><text x="397.2" y="66.0" font-size="5.9" text-anchor="middle" font-weight="normal" fill="#222" textLength="9.0" lengthAdjust="spacingAndGlyphs" >CD7-</text><text x="397.2" y="72.89999999999999" font-size="5.9" text-anchor="middle" font-weight="normal" fill="#222" textLength="8.0" lengthAdjust="spacingAndGlyphs" >82.9</text><line x1="442.79999999999995" y1="62.424765106232456" x2="444.4" y2="62.424765106232456" stroke="#444" stroke-width="0.7" /><line x1="442.79999999999995" y1="58.11052925936826" x2="444.4" y2="58.11052925936826" stroke="#444" stroke-width="0.7" /><line x1="442.79999999999995" y1="55.049530212464916" x2="444.4" y2="55.049530212464916" stroke="#444" stroke-width="0.7" /><line x1="442.79999999999995" y1="52.67523489376754" x2="444.4" y2="52.67523489376754" stroke="#444" stroke-width="0.7" /><line x1="442.79999999999995" y1="50.73529436560073" x2="444.4" y2="50.73529436560073" stroke="#444" stroke-width="0.7" /><line x1="442.79999999999995" y1="49.095098019650706" x2="444.4" y2="49.095098019650706" stroke="#444" stroke-width="0.7" /><line x1="442.79999999999995" y1="47.67429531869738" x2="444.4" y2="47.67429531869738" stroke="#444" stroke-width="0.7" /><line x1="442.79999999999995" y1="46.42105851873654" x2="444.4" y2="46.42105851873654" stroke="#444" stroke-width="0.7" /><line x1="442.79999999999995" y1="40.33300507154431" x2="444.4" y2="40.33300507154431" stroke="#444" stroke-width="0.7" /><line x1="442.79999999999995" y1="37.42749929712557" x2="444.4" y2="37.42749929712557" stroke="#444" stroke-width="0.7" /><line x1="442.79999999999995" y1="35.366010143088616" x2="444.4" y2="35.366010143088616" stroke="#444" stroke-width="0.7" /><line x1="442.79999999999995" y1="33.76699492845569" x2="444.4" y2="33.76699492845569" stroke="#444" stroke-width="0.7" /><line x1="442.79999999999995" y1="32.46050436866988" x2="444.4" y2="32.46050436866988" stroke="#444" stroke-width="0.7" /><line x1="442.79999999999995" y1="31.35588233976476" x2="444.4" y2="31.35588233976476" stroke="#444" stroke-width="0.7" /><line x1="442.79999999999995" y1="30.399015214632932" x2="444.4" y2="30.399015214632932" stroke="#444" stroke-width="0.7" /><line x1="442.79999999999995" y1="29.55499859425114" x2="444.4" y2="29.55499859425114" stroke="#444" stroke-width="0.7" /><line x1="442.79999999999995" y1="23.833005071544314" x2="444.4" y2="23.833005071544314" stroke="#444" stroke-width="0.7" /><line x1="442.79999999999995" y1="73.6" x2="444.4" y2="73.6" stroke="#444" stroke-width="0.7" /><line x1="442.79999999999995" y1="81.5" x2="444.4" y2="81.5" stroke="#444" stroke-width="0.7" /><line x1="441.59999999999997" y1="28.8" x2="444.4" y2="28.8" stroke="#222" stroke-width="0.9" /><g transform="translate(439.60 32.20) scale(0.62 1)"><text x="0" y="0" font-size="6.4" text-anchor="end" fill="#333">10<tspan font-size="4.10" dy="-2.6">4</tspan></text></g><line x1="441.59999999999997" y1="45.3" x2="444.4" y2="45.3" stroke="#222" stroke-width="0.9" /><g transform="translate(439.60 48.70) scale(0.62 1)"><text x="0" y="0" font-size="6.4" text-anchor="end" fill="#333">10<tspan font-size="4.10" dy="-2.6">3</tspan></text></g><line x1="441.59999999999997" y1="69.8" x2="444.4" y2="69.8" stroke="#222" stroke-width="0.9" /><g transform="translate(439.60 73.20) scale(0.62 1)"><text x="0" y="0" font-size="6.4" text-anchor="end" fill="#333">10<tspan font-size="4.10" dy="-2.6">2</tspan></text></g><line x1="441.59999999999997" y1="77.4" x2="444.4" y2="77.4" stroke="#222" stroke-width="0.9" /><g transform="translate(436.60 79.70) scale(0.62 1)"><text x="0" y="0" font-size="6.2" text-anchor="middle" fill="#333">0</text></g><line x1="441.59999999999997" y1="85.6" x2="444.4" y2="85.6" stroke="#222" stroke-width="0.9" /><g transform="translate(439.60 89.00) scale(0.62 1)"><text x="0" y="0" font-size="6.4" text-anchor="end" fill="#333">−10<tspan font-size="4.10" dy="-2.6">2</tspan></text></g><path d="M444.4 75.20L441.40 77.40L444.4 79.60z" fill="#111"/><line x1="477.38843692238527" y1="89.8" x2="477.38843692238527" y2="91.39999999999999" stroke="#444" stroke-width="0.7" /><line x1="480.5404704594819" y1="89.8" x2="480.5404704594819" y2="91.39999999999999" stroke="#444" stroke-width="0.7" /><line x1="482.77687384477053" y1="89.8" x2="482.77687384477053" y2="91.39999999999999" stroke="#444" stroke-width="0.7" /><line x1="484.5115630776147" y1="89.8" x2="484.5115630776147" y2="91.39999999999999" stroke="#444" stroke-width="0.7" /><line x1="485.9289073818672" y1="89.8" x2="485.9289073818672" y2="91.39999999999999" stroke="#444" stroke-width="0.7" /><line x1="487.1272549162552" y1="89.8" x2="487.1272549162552" y2="91.39999999999999" stroke="#444" stroke-width="0.7" /><line x1="488.16531076715574" y1="89.8" x2="488.16531076715574" y2="91.39999999999999" stroke="#444" stroke-width="0.7" /><line x1="489.0809409189639" y1="89.8" x2="489.0809409189639" y2="91.39999999999999" stroke="#444" stroke-width="0.7" /><line x1="495.01750992628763" y1="89.8" x2="495.01750992628763" y2="91.39999999999999" stroke="#444" stroke-width="0.7" /><line x1="498.0110613302342" y1="89.8" x2="498.0110613302342" y2="91.39999999999999" stroke="#444" stroke-width="0.7" /><line x1="500.13501985257534" y1="89.8" x2="500.13501985257534" y2="91.39999999999999" stroke="#444" stroke-width="0.7" /><line x1="501.7824900737123" y1="89.8" x2="501.7824900737123" y2="91.39999999999999" stroke="#444" stroke-width="0.7" /><line x1="503.1285712565219" y1="89.8" x2="503.1285712565219" y2="91.39999999999999" stroke="#444" stroke-width="0.7" /><line x1="504.26666668024234" y1="89.8" x2="504.26666668024234" y2="91.39999999999999" stroke="#444" stroke-width="0.7" /><line x1="505.252529778863" y1="89.8" x2="505.252529778863" y2="91.39999999999999" stroke="#444" stroke-width="0.7" /><line x1="506.1221226604685" y1="89.8" x2="506.1221226604685" y2="91.39999999999999" stroke="#444" stroke-width="0.7" /><line x1="512.0175099262876" y1="89.8" x2="512.0175099262876" y2="91.39999999999999" stroke="#444" stroke-width="0.7" /><line x1="451.5" y1="89.8" x2="451.5" y2="91.39999999999999" stroke="#444" stroke-width="0.7" /><line x1="465.2" y1="89.8" x2="465.2" y2="91.39999999999999" stroke="#444" stroke-width="0.7" /><line x1="444.6" y1="89.8" x2="444.6" y2="92.8" stroke="#222" stroke-width="0.9" /><g transform="translate(445.40 99.60) scale(0.62 1)"><text x="0" y="0" font-size="6.4" text-anchor="middle" fill="#333">−10<tspan font-size="4.10" dy="-2.6">2</tspan></text></g><line x1="458.4" y1="89.8" x2="458.4" y2="92.8" stroke="#222" stroke-width="0.9" /><g transform="translate(458.40 99.60) scale(0.62 1)"><text x="0" y="0" font-size="6.2" text-anchor="middle" fill="#333">0</text></g><line x1="472.0" y1="89.8" x2="472.0" y2="92.8" stroke="#222" stroke-width="0.9" /><g transform="translate(472.80 99.60) scale(0.62 1)"><text x="0" y="0" font-size="6.4" text-anchor="middle" fill="#333">10<tspan font-size="4.10" dy="-2.6">2</tspan></text></g><line x1="489.9" y1="89.8" x2="489.9" y2="92.8" stroke="#222" stroke-width="0.9" /><g transform="translate(490.70 99.60) scale(0.62 1)"><text x="0" y="0" font-size="6.4" text-anchor="middle" fill="#333">10<tspan font-size="4.10" dy="-2.6">3</tspan></text></g><line x1="506.9" y1="89.8" x2="506.9" y2="92.8" stroke="#222" stroke-width="0.9" /><g transform="translate(507.70 99.60) scale(0.62 1)"><text x="0" y="0" font-size="6.4" text-anchor="middle" fill="#333">10<tspan font-size="4.10" dy="-2.6">4</tspan></text></g><path d="M456.2 89.80L460.6 89.80L458.4 92.60z" fill="#111"/><text x="478.9" y="109.69999999999999" font-size="8.6" text-anchor="middle" font-weight="normal" fill="#222" textLength="29.6" lengthAdjust="spacingAndGlyphs" >PE-A hCD26</text><text x="428.0" y="55.74999999999999" font-size="7.0" text-anchor="middle" font-weight="normal" fill="#222" textLength="31.0" lengthAdjust="spacingAndGlyphs" transform="rotate(-90 428.0 55.74999999999999)" >FITC-A hCD7</text><path d="M470.2 49.8h0.9v0.9h-0.9zM484.0 49.2h0.9v0.9h-0.9zM474.0 41.6h0.9v0.9h-0.9zM483.6 47.3h0.9v0.9h-0.9zM471.8 43.1h0.9v0.9h-0.9zM471.7 43.2h0.9v0.9h-0.9zM472.4 48.6h0.9v0.9h-0.9zM472.2 48.0h0.9v0.9h-0.9zM466.9 52.0h0.9v0.9h-0.9zM468.1 40.6h0.9v0.9h-0.9zM470.9 44.3h0.9v0.9h-0.9zM465.9 45.8h0.9v0.9h-0.9zM473.7 42.9h0.9v0.9h-0.9zM471.2 52.0h0.9v0.9h-0.9zM500.7 46.5h0.9v0.9h-0.9zM498.5 46.6h0.9v0.9h-0.9zM497.8 49.2h0.9v0.9h-0.9zM497.6 39.8h0.9v0.9h-0.9zM497.9 44.3h0.9v0.9h-0.9zM500.6 45.2h0.9v0.9h-0.9zM498.6 53.5h0.9v0.9h-0.9zM493.8 43.6h0.9v0.9h-0.9zM455.3 51.0h0.9v0.9h-0.9zM451.1 64.8h0.9v0.9h-0.9zM462.3 53.7h0.9v0.9h-0.9zM454.7 66.1h0.9v0.9h-0.9zM461.0 61.2h0.9v0.9h-0.9zM471.0 69.8h0.9v0.9h-0.9zM485.5 68.2h0.9v0.9h-0.9zM469.3 63.9h0.9v0.9h-0.9zM484.2 70.1h0.9v0.9h-0.9zM465.2 65.3h0.9v0.9h-0.9zM470.6 63.3h0.9v0.9h-0.9zM463.5 56.4h0.9v0.9h-0.9zM463.2 55.3h0.9v0.9h-0.9zM479.0 65.7h0.9v0.9h-0.9zM457.1 70.0h0.9v0.9h-0.9zM476.0 53.5h0.9v0.9h-0.9zM484.6 67.0h0.9v0.9h-0.9zM486.6 56.8h0.9v0.9h-0.9zM472.8 65.1h0.9v0.9h-0.9zM469.8 63.9h0.9v0.9h-0.9zM477.5 55.5h0.9v0.9h-0.9zM456.8 56.0h0.9v0.9h-0.9zM463.0 60.0h0.9v0.9h-0.9zM471.3 64.3h0.9v0.9h-0.9zM468.3 59.6h0.9v0.9h-0.9zM464.0 67.8h0.9v0.9h-0.9zM474.9 63.5h0.9v0.9h-0.9zM465.1 70.8h0.9v0.9h-0.9zM462.7 66.2h0.9v0.9h-0.9zM478.4 61.7h0.9v0.9h-0.9zM475.4 57.4h0.9v0.9h-0.9zM477.1 64.0h0.9v0.9h-0.9zM453.7 66.3h0.9v0.9h-0.9zM460.0 69.4h0.9v0.9h-0.9zM461.9 62.2h0.9v0.9h-0.9zM470.5 61.3h0.9v0.9h-0.9zM470.3 60.2h0.9v0.9h-0.9zM474.0 63.0h0.9v0.9h-0.9zM469.9 49.2h0.9v0.9h-0.9zM478.5 63.2h0.9v0.9h-0.9zM452.0 63.5h0.9v0.9h-0.9zM472.2 68.4h0.9v0.9h-0.9zM458.3 70.7h0.9v0.9h-0.9zM466.6 75.0h0.9v0.9h-0.9zM466.7 66.4h0.9v0.9h-0.9zM464.7 57.4h0.9v0.9h-0.9zM477.9 67.5h0.9v0.9h-0.9zM481.8 67.3h0.9v0.9h-0.9zM462.8 54.7h0.9v0.9h-0.9zM462.1 59.6h0.9v0.9h-0.9zM460.7 65.9h0.9v0.9h-0.9zM471.0 61.7h0.9v0.9h-0.9zM469.6 62.3h0.9v0.9h-0.9zM469.9 66.8h0.9v0.9h-0.9zM476.6 59.6h0.9v0.9h-0.9zM454.4 70.1h0.9v0.9h-0.9zM469.0 68.5h0.9v0.9h-0.9zM453.2 61.4h0.9v0.9h-0.9zM468.2 55.8h0.9v0.9h-0.9zM463.4 66.6h0.9v0.9h-0.9zM477.7 71.0h0.9v0.9h-0.9zM460.2 56.0h0.9v0.9h-0.9zM472.7 67.7h0.9v0.9h-0.9zM469.7 56.5h0.9v0.9h-0.9zM475.0 67.0h0.9v0.9h-0.9zM473.0 60.6h0.9v0.9h-0.9zM470.7 67.0h0.9v0.9h-0.9zM463.0 53.8h0.9v0.9h-0.9zM471.0 65.4h0.9v0.9h-0.9zM468.1 67.4h0.9v0.9h-0.9zM462.7 62.6h0.9v0.9h-0.9zM465.3 65.9h0.9v0.9h-0.9zM482.4 61.7h0.9v0.9h-0.9zM486.5 70.6h0.9v0.9h-0.9zM475.1 65.9h0.9v0.9h-0.9zM483.9 62.1h0.9v0.9h-0.9zM467.0 57.7h0.9v0.9h-0.9zM472.3 69.7h0.9v0.9h-0.9zM472.8 65.1h0.9v0.9h-0.9zM466.2 63.8h0.9v0.9h-0.9zM489.9 67.2h0.9v0.9h-0.9zM495.0 58.6h0.9v0.9h-0.9zM493.2 59.7h0.9v0.9h-0.9zM501.3 67.2h0.9v0.9h-0.9zM490.2 66.7h0.9v0.9h-0.9zM501.4 60.7h0.9v0.9h-0.9zM489.6 60.0h0.9v0.9h-0.9zM493.8 64.4h0.9v0.9h-0.9z" fill="rgba(90,100,235,0.32)"/><line x1="444.4" y1="20.9" x2="513.8" y2="20.9" stroke="#5a5a5a" stroke-width="1.7" /><line x1="444.4" y1="20.4" x2="444.4" y2="90.39999999999999" stroke="#222" stroke-width="1.3" /><line x1="513.3" y1="20.4" x2="513.3" y2="90.39999999999999" stroke="#222" stroke-width="1.1" /><line x1="443.79999999999995" y1="89.8" x2="513.8" y2="89.8" stroke="#222" stroke-width="1.3" /><line x1="444.4" y1="54.7" x2="513.3" y2="54.7" stroke="#222" stroke-width="1.3" /><line x1="482.6" y1="20.9" x2="482.6" y2="89.8" stroke="#222" stroke-width="1.3" /><text x="462.9" y="28.3" font-size="5.9" text-anchor="middle" font-weight="normal" fill="#222" textLength="24.3" lengthAdjust="spacingAndGlyphs" >CD26- CD7+</text><text x="462.9" y="35.2" font-size="5.9" text-anchor="middle" font-weight="normal" fill="#222" textLength="7.4" lengthAdjust="spacingAndGlyphs" >11.1</text><text x="498.9" y="28.3" font-size="5.9" text-anchor="middle" font-weight="normal" fill="#222" textLength="24.9" lengthAdjust="spacingAndGlyphs" >CD26+ CD7+</text><text x="498.9" y="35.2" font-size="5.9" text-anchor="middle" font-weight="normal" fill="#222" textLength="7.4" lengthAdjust="spacingAndGlyphs" >7.19</text><text x="460.2" y="80.7" font-size="5.9" text-anchor="middle" font-weight="normal" fill="#222" textLength="24.3" lengthAdjust="spacingAndGlyphs" >CD26- CD7-</text><text x="460.2" y="87.6" font-size="5.9" text-anchor="middle" font-weight="normal" fill="#222" textLength="7.4" lengthAdjust="spacingAndGlyphs" >75.4</text><text x="499.2" y="80.7" font-size="5.9" text-anchor="middle" font-weight="normal" fill="#222" textLength="24.3" lengthAdjust="spacingAndGlyphs" >CD26+ CD7-</text><text x="499.2" y="87.6" font-size="5.9" text-anchor="middle" font-weight="normal" fill="#222" textLength="7.4" lengthAdjust="spacingAndGlyphs" >6.29</text><line x1="252.04" y1="188.1" x2="252.04" y2="189.7" stroke="#444" stroke-width="0.7" /><line x1="254.68" y1="188.1" x2="254.68" y2="189.7" stroke="#444" stroke-width="0.7" /><line x1="257.32" y1="188.1" x2="257.32" y2="189.7" stroke="#444" stroke-width="0.7" /><line x1="259.96" y1="188.1" x2="259.96" y2="189.7" stroke="#444" stroke-width="0.7" /><line x1="265.24" y1="188.1" x2="265.24" y2="189.7" stroke="#444" stroke-width="0.7" /><line x1="267.88" y1="188.1" x2="267.88" y2="189.7" stroke="#444" stroke-width="0.7" /><line x1="270.52" y1="188.1" x2="270.52" y2="189.7" stroke="#444" stroke-width="0.7" /><line x1="273.16" y1="188.1" x2="273.16" y2="189.7" stroke="#444" stroke-width="0.7" /><line x1="278.44" y1="188.1" x2="278.44" y2="189.7" stroke="#444" stroke-width="0.7" /><line x1="281.08" y1="188.1" x2="281.08" y2="189.7" stroke="#444" stroke-width="0.7" /><line x1="283.72" y1="188.1" x2="283.72" y2="189.7" stroke="#444" stroke-width="0.7" /><line x1="286.36" y1="188.1" x2="286.36" y2="189.7" stroke="#444" stroke-width="0.7" /><line x1="291.64" y1="188.1" x2="291.64" y2="189.7" stroke="#444" stroke-width="0.7" /><line x1="294.28" y1="188.1" x2="294.28" y2="189.7" stroke="#444" stroke-width="0.7" /><line x1="296.92" y1="188.1" x2="296.92" y2="189.7" stroke="#444" stroke-width="0.7" /><line x1="299.56" y1="188.1" x2="299.56" y2="189.7" stroke="#444" stroke-width="0.7" /><line x1="304.84000000000003" y1="188.1" x2="304.84000000000003" y2="189.7" stroke="#444" stroke-width="0.7" /><line x1="307.48" y1="188.1" x2="307.48" y2="189.7" stroke="#444" stroke-width="0.7" /><line x1="310.12" y1="188.1" x2="310.12" y2="189.7" stroke="#444" stroke-width="0.7" /><line x1="312.76" y1="188.1" x2="312.76" y2="189.7" stroke="#444" stroke-width="0.7" /><line x1="318.04" y1="188.1" x2="318.04" y2="189.7" stroke="#444" stroke-width="0.7" /><line x1="247.4" y1="154.97176907674753" x2="249.0" y2="154.97176907674753" stroke="#444" stroke-width="0.7" /><line x1="247.4" y1="151.85495379146198" x2="249.0" y2="151.85495379146198" stroke="#444" stroke-width="0.7" /><line x1="247.4" y1="149.64353815349506" x2="249.0" y2="149.64353815349506" stroke="#444" stroke-width="0.7" /><line x1="247.4" y1="147.92823092325247" x2="249.0" y2="147.92823092325247" stroke="#444" stroke-width="0.7" /><line x1="247.4" y1="146.5267228682095" x2="249.0" y2="146.5267228682095" stroke="#444" stroke-width="0.7" /><line x1="247.4" y1="145.34176469174764" x2="249.0" y2="145.34176469174764" stroke="#444" stroke-width="0.7" /><line x1="247.4" y1="144.31530723024258" x2="249.0" y2="144.31530723024258" stroke="#444" stroke-width="0.7" /><line x1="247.4" y1="143.40990758292395" x2="249.0" y2="143.40990758292395" stroke="#444" stroke-width="0.7" /><line x1="247.4" y1="137.5727990724115" x2="249.0" y2="137.5727990724115" stroke="#444" stroke-width="0.7" /><line x1="247.4" y1="134.63207504618163" x2="249.0" y2="134.63207504618163" stroke="#444" stroke-width="0.7" /><line x1="247.4" y1="132.54559814482303" x2="249.0" y2="132.54559814482303" stroke="#444" stroke-width="0.7" /><line x1="247.4" y1="130.9272009275885" x2="249.0" y2="130.9272009275885" stroke="#444" stroke-width="0.7" /><line x1="247.4" y1="129.60487411859316" x2="249.0" y2="129.60487411859316" stroke="#444" stroke-width="0.7" /><line x1="247.4" y1="128.4868627317619" x2="249.0" y2="128.4868627317619" stroke="#444" stroke-width="0.7" /><line x1="247.4" y1="127.51839721723455" x2="249.0" y2="127.51839721723455" stroke="#444" stroke-width="0.7" /><line x1="247.4" y1="126.66415009236329" x2="249.0" y2="126.66415009236329" stroke="#444" stroke-width="0.7" /><line x1="247.4" y1="120.87279907241152" x2="249.0" y2="120.87279907241152" stroke="#444" stroke-width="0.7" /><line x1="247.4" y1="167.1" x2="249.0" y2="167.1" stroke="#444" stroke-width="0.7" /><line x1="247.4" y1="180.6" x2="249.0" y2="180.6" stroke="#444" stroke-width="0.7" /><line x1="246.2" y1="125.9" x2="249.0" y2="125.9" stroke="#222" stroke-width="0.9" /><g transform="translate(244.20 129.30) scale(0.62 1)"><text x="0" y="0" font-size="6.4" text-anchor="end" fill="#333">10<tspan font-size="4.10" dy="-2.6">4</tspan></text></g><line x1="246.2" y1="142.6" x2="249.0" y2="142.6" stroke="#222" stroke-width="0.9" /><g transform="translate(244.20 146.00) scale(0.62 1)"><text x="0" y="0" font-size="6.4" text-anchor="end" fill="#333">10<tspan font-size="4.10" dy="-2.6">3</tspan></text></g><line x1="246.2" y1="160.3" x2="249.0" y2="160.3" stroke="#222" stroke-width="0.9" /><g transform="translate(244.20 163.70) scale(0.62 1)"><text x="0" y="0" font-size="6.4" text-anchor="end" fill="#333">10<tspan font-size="4.10" dy="-2.6">2</tspan></text></g><line x1="246.2" y1="173.89999999999998" x2="249.0" y2="173.89999999999998" stroke="#222" stroke-width="0.9" /><g transform="translate(241.20 176.20) scale(0.62 1)"><text x="0" y="0" font-size="6.2" text-anchor="middle" fill="#333">0</text></g><line x1="246.2" y1="187.3" x2="249.0" y2="187.3" stroke="#222" stroke-width="0.9" /><g transform="translate(244.20 190.70) scale(0.62 1)"><text x="0" y="0" font-size="6.4" text-anchor="end" fill="#333">−10<tspan font-size="4.10" dy="-2.6">2</tspan></text></g><path d="M249.0 171.70L246.00 173.90L249.0 176.10z" fill="#111"/><line x1="249.4" y1="188.1" x2="249.4" y2="191.1" stroke="#222" stroke-width="0.9" /><text x="249.4" y="197.7" font-size="5.6" text-anchor="middle" font-weight="normal" fill="#333" textLength="2.6" lengthAdjust="spacingAndGlyphs" >0</text><line x1="262.6" y1="188.1" x2="262.6" y2="191.1" stroke="#222" stroke-width="0.9" /><text x="262.6" y="197.7" font-size="5.6" text-anchor="middle" font-weight="normal" fill="#333" textLength="7.6" lengthAdjust="spacingAndGlyphs" >50K</text><line x1="275.8" y1="188.1" x2="275.8" y2="191.1" stroke="#222" stroke-width="0.9" /><text x="275.8" y="197.7" font-size="5.6" text-anchor="middle" font-weight="normal" fill="#333" textLength="9.9" lengthAdjust="spacingAndGlyphs" >100K</text><line x1="289.0" y1="188.1" x2="289.0" y2="191.1" stroke="#222" stroke-width="0.9" /><text x="289.0" y="197.7" font-size="5.6" text-anchor="middle" font-weight="normal" fill="#333" textLength="9.9" lengthAdjust="spacingAndGlyphs" >150K</text><line x1="302.2" y1="188.1" x2="302.2" y2="191.1" stroke="#222" stroke-width="0.9" /><text x="302.2" y="197.7" font-size="5.6" text-anchor="middle" font-weight="normal" fill="#333" textLength="9.9" lengthAdjust="spacingAndGlyphs" >200K</text><line x1="315.4" y1="188.1" x2="315.4" y2="191.1" stroke="#222" stroke-width="0.9" /><text x="315.4" y="197.7" font-size="5.6" text-anchor="middle" font-weight="normal" fill="#333" textLength="9.9" lengthAdjust="spacingAndGlyphs" >250K</text><text x="283.3" y="207.9" font-size="8.2" text-anchor="middle" font-weight="normal" fill="#222" textLength="15.8" lengthAdjust="spacingAndGlyphs" >FSC-A</text><text x="232.8" y="153.45" font-size="7.0" text-anchor="middle" font-weight="normal" fill="#222" textLength="33.0" lengthAdjust="spacingAndGlyphs" transform="rotate(-90 232.8 153.45)" >PE-A hCD26</text><path d="M269.3 133.1h0.9v0.9h-0.9zM269.7 134.6h0.9v0.9h-0.9zM267.1 128.6h0.9v0.9h-0.9zM269.6 128.1h0.9v0.9h-0.9zM268.2 134.1h0.9v0.9h-0.9zM268.8 134.1h0.9v0.9h-0.9zM270.6 132.9h0.9v0.9h-0.9zM270.3 131.4h0.9v0.9h-0.9zM267.8 131.7h0.9v0.9h-0.9zM270.2 129.9h0.9v0.9h-0.9zM269.5 134.5h0.9v0.9h-0.9zM268.5 134.1h0.9v0.9h-0.9zM272.0 129.8h0.9v0.9h-0.9zM269.8 131.3h0.9v0.9h-0.9zM271.6 132.9h0.9v0.9h-0.9zM270.8 129.3h0.9v0.9h-0.9zM269.6 131.8h0.9v0.9h-0.9zM267.3 137.0h0.9v0.9h-0.9zM270.8 125.5h0.9v0.9h-0.9zM270.6 131.3h0.9v0.9h-0.9zM270.2 133.1h0.9v0.9h-0.9zM267.7 131.0h0.9v0.9h-0.9zM271.5 129.7h0.9v0.9h-0.9zM268.3 126.9h0.9v0.9h-0.9zM268.0 133.0h0.9v0.9h-0.9zM271.8 133.3h0.9v0.9h-0.9zM269.9 139.8h0.9v0.9h-0.9zM268.9 129.4h0.9v0.9h-0.9zM270.3 133.8h0.9v0.9h-0.9zM268.3 127.6h0.9v0.9h-0.9zM270.0 132.7h0.9v0.9h-0.9zM267.9 131.1h0.9v0.9h-0.9zM268.9 133.5h0.9v0.9h-0.9zM269.4 131.5h0.9v0.9h-0.9zM269.1 135.6h0.9v0.9h-0.9zM271.4 130.5h0.9v0.9h-0.9zM270.7 129.1h0.9v0.9h-0.9zM269.7 134.5h0.9v0.9h-0.9zM271.6 130.4h0.9v0.9h-0.9zM269.5 132.5h0.9v0.9h-0.9zM267.7 131.9h0.9v0.9h-0.9zM268.7 133.1h0.9v0.9h-0.9zM268.1 124.7h0.9v0.9h-0.9zM269.6 132.7h0.9v0.9h-0.9zM268.9 135.0h0.9v0.9h-0.9zM269.2 129.6h0.9v0.9h-0.9zM270.2 126.2h0.9v0.9h-0.9zM268.7 131.7h0.9v0.9h-0.9zM270.7 131.2h0.9v0.9h-0.9zM270.0 129.4h0.9v0.9h-0.9zM270.7 164.6h0.9v0.9h-0.9zM269.0 168.1h0.9v0.9h-0.9zM269.0 156.4h0.9v0.9h-0.9zM270.5 161.4h0.9v0.9h-0.9zM268.0 145.8h0.9v0.9h-0.9zM271.3 160.3h0.9v0.9h-0.9zM271.3 169.5h0.9v0.9h-0.9zM270.6 157.6h0.9v0.9h-0.9zM271.9 158.1h0.9v0.9h-0.9zM273.2 150.1h0.9v0.9h-0.9zM269.5 139.1h0.9v0.9h-0.9zM271.7 154.4h0.9v0.9h-0.9zM271.9 167.1h0.9v0.9h-0.9zM270.2 155.0h0.9v0.9h-0.9zM269.3 152.1h0.9v0.9h-0.9zM269.1 159.5h0.9v0.9h-0.9zM270.3 156.6h0.9v0.9h-0.9zM269.9 160.9h0.9v0.9h-0.9zM271.1 155.6h0.9v0.9h-0.9zM271.4 155.5h0.9v0.9h-0.9zM268.1 163.6h0.9v0.9h-0.9zM271.0 151.5h0.9v0.9h-0.9zM272.1 158.0h0.9v0.9h-0.9zM267.4 164.3h0.9v0.9h-0.9zM270.8 160.8h0.9v0.9h-0.9zM270.6 155.6h0.9v0.9h-0.9zM267.4 161.2h0.9v0.9h-0.9zM270.3 154.9h0.9v0.9h-0.9zM270.8 156.7h0.9v0.9h-0.9zM271.4 154.4h0.9v0.9h-0.9zM270.1 145.6h0.9v0.9h-0.9zM269.4 159.7h0.9v0.9h-0.9zM272.6 154.5h0.9v0.9h-0.9zM270.0 164.2h0.9v0.9h-0.9zM269.6 160.0h0.9v0.9h-0.9zM273.2 173.5h0.9v0.9h-0.9zM272.4 169.0h0.9v0.9h-0.9zM270.6 172.8h0.9v0.9h-0.9zM270.4 180.1h0.9v0.9h-0.9zM274.5 169.3h0.9v0.9h-0.9zM269.2 176.3h0.9v0.9h-0.9zM268.3 176.3h0.9v0.9h-0.9zM271.2 171.6h0.9v0.9h-0.9zM271.2 164.0h0.9v0.9h-0.9zM271.6 164.0h0.9v0.9h-0.9zM268.9 170.0h0.9v0.9h-0.9zM269.5 178.5h0.9v0.9h-0.9zM270.3 170.9h0.9v0.9h-0.9zM271.2 182.8h0.9v0.9h-0.9zM270.2 175.5h0.9v0.9h-0.9z" fill="rgba(90,100,235,0.32)"/><line x1="249.0" y1="119.19999999999999" x2="319.1" y2="119.19999999999999" stroke="#5a5a5a" stroke-width="1.7" /><line x1="249.0" y1="118.69999999999999" x2="249.0" y2="188.7" stroke="#222" stroke-width="1.3" /><line x1="318.6" y1="118.69999999999999" x2="318.6" y2="188.7" stroke="#222" stroke-width="1.1" /><line x1="248.4" y1="188.1" x2="319.1" y2="188.1" stroke="#222" stroke-width="1.3" /><rect x="254.5" y="148.1" width="44.10000000000002" height="36.599999999999994" fill="none" stroke="#111" stroke-width="1.1" /><text x="307.0" y="164.89999999999998" font-size="5.9" text-anchor="middle" font-weight="normal" fill="#222" textLength="12.1" lengthAdjust="spacingAndGlyphs" >CD26-</text><text x="307.0" y="171.79999999999998" font-size="5.9" text-anchor="middle" font-weight="normal" fill="#222" textLength="8.0" lengthAdjust="spacingAndGlyphs" >43.2</text><line x1="349.72400000000005" y1="188.1" x2="349.72400000000005" y2="189.7" stroke="#444" stroke-width="0.7" /><line x1="352.348" y1="188.1" x2="352.348" y2="189.7" stroke="#444" stroke-width="0.7" /><line x1="354.97200000000004" y1="188.1" x2="354.97200000000004" y2="189.7" stroke="#444" stroke-width="0.7" /><line x1="357.596" y1="188.1" x2="357.596" y2="189.7" stroke="#444" stroke-width="0.7" /><line x1="362.84400000000005" y1="188.1" x2="362.84400000000005" y2="189.7" stroke="#444" stroke-width="0.7" /><line x1="365.468" y1="188.1" x2="365.468" y2="189.7" stroke="#444" stroke-width="0.7" /><line x1="368.09200000000004" y1="188.1" x2="368.09200000000004" y2="189.7" stroke="#444" stroke-width="0.7" /><line x1="370.716" y1="188.1" x2="370.716" y2="189.7" stroke="#444" stroke-width="0.7" /><line x1="375.964" y1="188.1" x2="375.964" y2="189.7" stroke="#444" stroke-width="0.7" /><line x1="378.588" y1="188.1" x2="378.588" y2="189.7" stroke="#444" stroke-width="0.7" /><line x1="381.21200000000005" y1="188.1" x2="381.21200000000005" y2="189.7" stroke="#444" stroke-width="0.7" /><line x1="383.836" y1="188.1" x2="383.836" y2="189.7" stroke="#444" stroke-width="0.7" /><line x1="389.084" y1="188.1" x2="389.084" y2="189.7" stroke="#444" stroke-width="0.7" /><line x1="391.708" y1="188.1" x2="391.708" y2="189.7" stroke="#444" stroke-width="0.7" /><line x1="394.332" y1="188.1" x2="394.332" y2="189.7" stroke="#444" stroke-width="0.7" /><line x1="396.956" y1="188.1" x2="396.956" y2="189.7" stroke="#444" stroke-width="0.7" /><line x1="402.204" y1="188.1" x2="402.204" y2="189.7" stroke="#444" stroke-width="0.7" /><line x1="404.82800000000003" y1="188.1" x2="404.82800000000003" y2="189.7" stroke="#444" stroke-width="0.7" /><line x1="407.452" y1="188.1" x2="407.452" y2="189.7" stroke="#444" stroke-width="0.7" /><line x1="410.076" y1="188.1" x2="410.076" y2="189.7" stroke="#444" stroke-width="0.7" /><line x1="415.324" y1="188.1" x2="415.324" y2="189.7" stroke="#444" stroke-width="0.7" /><line x1="345.5" y1="160.72476510623247" x2="347.1" y2="160.72476510623247" stroke="#444" stroke-width="0.7" /><line x1="345.5" y1="156.41052925936827" x2="347.1" y2="156.41052925936827" stroke="#444" stroke-width="0.7" /><line x1="345.5" y1="153.3495302124649" x2="347.1" y2="153.3495302124649" stroke="#444" stroke-width="0.7" /><line x1="345.5" y1="150.97523489376752" x2="347.1" y2="150.97523489376752" stroke="#444" stroke-width="0.7" /><line x1="345.5" y1="149.03529436560072" x2="347.1" y2="149.03529436560072" stroke="#444" stroke-width="0.7" /><line x1="345.5" y1="147.3950980196507" x2="347.1" y2="147.3950980196507" stroke="#444" stroke-width="0.7" /><line x1="345.5" y1="145.9742953186974" x2="347.1" y2="145.9742953186974" stroke="#444" stroke-width="0.7" /><line x1="345.5" y1="144.72105851873653" x2="347.1" y2="144.72105851873653" stroke="#444" stroke-width="0.7" /><line x1="345.5" y1="138.63300507154432" x2="347.1" y2="138.63300507154432" stroke="#444" stroke-width="0.7" /><line x1="345.5" y1="135.72749929712558" x2="347.1" y2="135.72749929712558" stroke="#444" stroke-width="0.7" /><line x1="345.5" y1="133.6660101430886" x2="347.1" y2="133.6660101430886" stroke="#444" stroke-width="0.7" /><line x1="345.5" y1="132.06699492845567" x2="347.1" y2="132.06699492845567" stroke="#444" stroke-width="0.7" /><line x1="345.5" y1="130.76050436866987" x2="347.1" y2="130.76050436866987" stroke="#444" stroke-width="0.7" /><line x1="345.5" y1="129.65588233976476" x2="347.1" y2="129.65588233976476" stroke="#444" stroke-width="0.7" /><line x1="345.5" y1="128.69901521463294" x2="347.1" y2="128.69901521463294" stroke="#444" stroke-width="0.7" /><line x1="345.5" y1="127.85499859425113" x2="347.1" y2="127.85499859425113" stroke="#444" stroke-width="0.7" /><line x1="345.5" y1="122.1330050715443" x2="347.1" y2="122.1330050715443" stroke="#444" stroke-width="0.7" /><line x1="345.5" y1="171.89999999999998" x2="347.1" y2="171.89999999999998" stroke="#444" stroke-width="0.7" /><line x1="345.5" y1="179.79999999999998" x2="347.1" y2="179.79999999999998" stroke="#444" stroke-width="0.7" /><line x1="344.3" y1="127.1" x2="347.1" y2="127.1" stroke="#222" stroke-width="0.9" /><g transform="translate(342.30 130.50) scale(0.62 1)"><text x="0" y="0" font-size="6.4" text-anchor="end" fill="#333">10<tspan font-size="4.10" dy="-2.6">4</tspan></text></g><line x1="344.3" y1="143.6" x2="347.1" y2="143.6" stroke="#222" stroke-width="0.9" /><g transform="translate(342.30 147.00) scale(0.62 1)"><text x="0" y="0" font-size="6.4" text-anchor="end" fill="#333">10<tspan font-size="4.10" dy="-2.6">3</tspan></text></g><line x1="344.3" y1="168.1" x2="347.1" y2="168.1" stroke="#222" stroke-width="0.9" /><g transform="translate(342.30 171.50) scale(0.62 1)"><text x="0" y="0" font-size="6.4" text-anchor="end" fill="#333">10<tspan font-size="4.10" dy="-2.6">2</tspan></text></g><line x1="344.3" y1="175.7" x2="347.1" y2="175.7" stroke="#222" stroke-width="0.9" /><g transform="translate(339.30 178.00) scale(0.62 1)"><text x="0" y="0" font-size="6.2" text-anchor="middle" fill="#333">0</text></g><line x1="344.3" y1="183.89999999999998" x2="347.1" y2="183.89999999999998" stroke="#222" stroke-width="0.9" /><g transform="translate(342.30 187.30) scale(0.62 1)"><text x="0" y="0" font-size="6.4" text-anchor="end" fill="#333">−10<tspan font-size="4.10" dy="-2.6">2</tspan></text></g><path d="M347.1 173.50L344.10 175.70L347.1 177.90z" fill="#111"/><line x1="347.1" y1="188.1" x2="347.1" y2="191.1" stroke="#222" stroke-width="0.9" /><text x="347.1" y="197.7" font-size="5.6" text-anchor="middle" font-weight="normal" fill="#333" textLength="2.6" lengthAdjust="spacingAndGlyphs" >0</text><line x1="360.22" y1="188.1" x2="360.22" y2="191.1" stroke="#222" stroke-width="0.9" /><text x="360.22" y="197.7" font-size="5.6" text-anchor="middle" font-weight="normal" fill="#333" textLength="7.6" lengthAdjust="spacingAndGlyphs" >50K</text><line x1="373.34000000000003" y1="188.1" x2="373.34000000000003" y2="191.1" stroke="#222" stroke-width="0.9" /><text x="373.34000000000003" y="197.7" font-size="5.6" text-anchor="middle" font-weight="normal" fill="#333" textLength="9.9" lengthAdjust="spacingAndGlyphs" >100K</text><line x1="386.46000000000004" y1="188.1" x2="386.46000000000004" y2="191.1" stroke="#222" stroke-width="0.9" /><text x="386.46000000000004" y="197.7" font-size="5.6" text-anchor="middle" font-weight="normal" fill="#333" textLength="9.9" lengthAdjust="spacingAndGlyphs" >150K</text><line x1="399.58000000000004" y1="188.1" x2="399.58000000000004" y2="191.1" stroke="#222" stroke-width="0.9" /><text x="399.58000000000004" y="197.7" font-size="5.6" text-anchor="middle" font-weight="normal" fill="#333" textLength="9.9" lengthAdjust="spacingAndGlyphs" >200K</text><line x1="412.70000000000005" y1="188.1" x2="412.70000000000005" y2="191.1" stroke="#222" stroke-width="0.9" /><text x="412.70000000000005" y="197.7" font-size="5.6" text-anchor="middle" font-weight="normal" fill="#333" textLength="9.9" lengthAdjust="spacingAndGlyphs" >250K</text><text x="381.25" y="207.9" font-size="8.2" text-anchor="middle" font-weight="normal" fill="#222" textLength="15.8" lengthAdjust="spacingAndGlyphs" >FSC-A</text><text x="331.2" y="154.04999999999998" font-size="7.0" text-anchor="middle" font-weight="normal" fill="#222" textLength="31.0" lengthAdjust="spacingAndGlyphs" transform="rotate(-90 331.2 154.04999999999998)" >FITC-A hCD7</text><path d="M368.7 147.6h0.9v0.9h-0.9zM364.9 158.8h0.9v0.9h-0.9zM370.1 136.4h0.9v0.9h-0.9zM366.7 148.4h0.9v0.9h-0.9zM368.2 149.6h0.9v0.9h-0.9zM366.4 141.0h0.9v0.9h-0.9zM367.0 151.5h0.9v0.9h-0.9zM365.2 141.2h0.9v0.9h-0.9zM366.8 136.6h0.9v0.9h-0.9zM366.4 144.1h0.9v0.9h-0.9zM367.5 142.8h0.9v0.9h-0.9zM365.5 144.3h0.9v0.9h-0.9zM366.7 143.0h0.9v0.9h-0.9zM366.8 150.1h0.9v0.9h-0.9zM368.6 154.8h0.9v0.9h-0.9zM365.6 144.2h0.9v0.9h-0.9zM363.1 155.8h0.9v0.9h-0.9zM365.7 146.1h0.9v0.9h-0.9zM367.6 139.5h0.9v0.9h-0.9zM367.5 146.2h0.9v0.9h-0.9zM364.1 147.8h0.9v0.9h-0.9zM368.6 137.0h0.9v0.9h-0.9zM368.0 147.3h0.9v0.9h-0.9zM367.5 148.5h0.9v0.9h-0.9zM368.8 145.2h0.9v0.9h-0.9zM368.1 144.3h0.9v0.9h-0.9zM367.9 142.2h0.9v0.9h-0.9zM366.6 155.0h0.9v0.9h-0.9zM367.5 145.5h0.9v0.9h-0.9zM365.1 142.3h0.9v0.9h-0.9zM367.1 151.0h0.9v0.9h-0.9zM367.4 148.9h0.9v0.9h-0.9zM366.7 153.1h0.9v0.9h-0.9zM366.2 143.6h0.9v0.9h-0.9zM368.1 146.6h0.9v0.9h-0.9zM366.4 143.4h0.9v0.9h-0.9zM366.4 149.4h0.9v0.9h-0.9zM367.3 140.3h0.9v0.9h-0.9zM367.4 147.2h0.9v0.9h-0.9zM365.3 150.2h0.9v0.9h-0.9zM366.4 144.6h0.9v0.9h-0.9zM368.0 152.9h0.9v0.9h-0.9zM365.8 148.5h0.9v0.9h-0.9zM365.5 157.9h0.9v0.9h-0.9zM366.1 152.3h0.9v0.9h-0.9zM366.2 164.4h0.9v0.9h-0.9zM370.8 147.6h0.9v0.9h-0.9zM366.5 162.8h0.9v0.9h-0.9zM367.1 157.0h0.9v0.9h-0.9zM370.6 160.7h0.9v0.9h-0.9zM364.6 164.6h0.9v0.9h-0.9zM364.4 166.1h0.9v0.9h-0.9zM366.3 161.0h0.9v0.9h-0.9zM369.2 160.9h0.9v0.9h-0.9zM365.0 151.8h0.9v0.9h-0.9zM369.1 164.0h0.9v0.9h-0.9zM365.9 164.6h0.9v0.9h-0.9zM368.0 163.5h0.9v0.9h-0.9zM363.6 158.8h0.9v0.9h-0.9zM368.6 164.0h0.9v0.9h-0.9zM368.6 148.0h0.9v0.9h-0.9zM367.5 162.8h0.9v0.9h-0.9zM371.3 155.5h0.9v0.9h-0.9zM366.7 160.5h0.9v0.9h-0.9zM368.6 158.1h0.9v0.9h-0.9zM369.0 156.4h0.9v0.9h-0.9zM367.6 157.7h0.9v0.9h-0.9zM367.5 156.8h0.9v0.9h-0.9zM364.6 165.8h0.9v0.9h-0.9zM367.7 157.5h0.9v0.9h-0.9zM367.5 165.3h0.9v0.9h-0.9zM365.6 159.7h0.9v0.9h-0.9zM368.1 162.9h0.9v0.9h-0.9zM366.7 149.8h0.9v0.9h-0.9zM369.2 161.9h0.9v0.9h-0.9zM367.0 168.5h0.9v0.9h-0.9zM367.4 168.0h0.9v0.9h-0.9zM365.5 167.1h0.9v0.9h-0.9zM366.1 167.5h0.9v0.9h-0.9zM365.3 171.2h0.9v0.9h-0.9zM365.0 171.3h0.9v0.9h-0.9zM365.5 170.4h0.9v0.9h-0.9zM369.1 169.9h0.9v0.9h-0.9z" fill="rgba(90,100,235,0.32)"/><line x1="347.1" y1="119.19999999999999" x2="416.9" y2="119.19999999999999" stroke="#5a5a5a" stroke-width="1.7" /><line x1="347.1" y1="118.69999999999999" x2="347.1" y2="188.7" stroke="#222" stroke-width="1.3" /><line x1="416.4" y1="118.69999999999999" x2="416.4" y2="188.7" stroke="#222" stroke-width="1.1" /><line x1="346.5" y1="188.1" x2="416.9" y2="188.1" stroke="#222" stroke-width="1.3" /><rect x="355.4" y="152.5" width="34.5" height="31.099999999999994" fill="none" stroke="#111" stroke-width="1.1" /><text x="397.2" y="164.0" font-size="5.9" text-anchor="middle" font-weight="normal" fill="#222" textLength="9.0" lengthAdjust="spacingAndGlyphs" >CD7-</text><text x="397.2" y="170.9" font-size="5.9" text-anchor="middle" font-weight="normal" fill="#222" textLength="8.0" lengthAdjust="spacingAndGlyphs" >49.7</text><line x1="442.79999999999995" y1="160.72476510623247" x2="444.4" y2="160.72476510623247" stroke="#444" stroke-width="0.7" /><line x1="442.79999999999995" y1="156.41052925936827" x2="444.4" y2="156.41052925936827" stroke="#444" stroke-width="0.7" /><line x1="442.79999999999995" y1="153.3495302124649" x2="444.4" y2="153.3495302124649" stroke="#444" stroke-width="0.7" /><line x1="442.79999999999995" y1="150.97523489376752" x2="444.4" y2="150.97523489376752" stroke="#444" stroke-width="0.7" /><line x1="442.79999999999995" y1="149.03529436560072" x2="444.4" y2="149.03529436560072" stroke="#444" stroke-width="0.7" /><line x1="442.79999999999995" y1="147.3950980196507" x2="444.4" y2="147.3950980196507" stroke="#444" stroke-width="0.7" /><line x1="442.79999999999995" y1="145.9742953186974" x2="444.4" y2="145.9742953186974" stroke="#444" stroke-width="0.7" /><line x1="442.79999999999995" y1="144.72105851873653" x2="444.4" y2="144.72105851873653" stroke="#444" stroke-width="0.7" /><line x1="442.79999999999995" y1="138.63300507154432" x2="444.4" y2="138.63300507154432" stroke="#444" stroke-width="0.7" /><line x1="442.79999999999995" y1="135.72749929712558" x2="444.4" y2="135.72749929712558" stroke="#444" stroke-width="0.7" /><line x1="442.79999999999995" y1="133.6660101430886" x2="444.4" y2="133.6660101430886" stroke="#444" stroke-width="0.7" /><line x1="442.79999999999995" y1="132.06699492845567" x2="444.4" y2="132.06699492845567" stroke="#444" stroke-width="0.7" /><line x1="442.79999999999995" y1="130.76050436866987" x2="444.4" y2="130.76050436866987" stroke="#444" stroke-width="0.7" /><line x1="442.79999999999995" y1="129.65588233976476" x2="444.4" y2="129.65588233976476" stroke="#444" stroke-width="0.7" /><line x1="442.79999999999995" y1="128.69901521463294" x2="444.4" y2="128.69901521463294" stroke="#444" stroke-width="0.7" /><line x1="442.79999999999995" y1="127.85499859425113" x2="444.4" y2="127.85499859425113" stroke="#444" stroke-width="0.7" /><line x1="442.79999999999995" y1="122.1330050715443" x2="444.4" y2="122.1330050715443" stroke="#444" stroke-width="0.7" /><line x1="442.79999999999995" y1="171.89999999999998" x2="444.4" y2="171.89999999999998" stroke="#444" stroke-width="0.7" /><line x1="442.79999999999995" y1="179.79999999999998" x2="444.4" y2="179.79999999999998" stroke="#444" stroke-width="0.7" /><line x1="441.59999999999997" y1="127.1" x2="444.4" y2="127.1" stroke="#222" stroke-width="0.9" /><g transform="translate(439.60 130.50) scale(0.62 1)"><text x="0" y="0" font-size="6.4" text-anchor="end" fill="#333">10<tspan font-size="4.10" dy="-2.6">4</tspan></text></g><line x1="441.59999999999997" y1="143.6" x2="444.4" y2="143.6" stroke="#222" stroke-width="0.9" /><g transform="translate(439.60 147.00) scale(0.62 1)"><text x="0" y="0" font-size="6.4" text-anchor="end" fill="#333">10<tspan font-size="4.10" dy="-2.6">3</tspan></text></g><line x1="441.59999999999997" y1="168.1" x2="444.4" y2="168.1" stroke="#222" stroke-width="0.9" /><g transform="translate(439.60 171.50) scale(0.62 1)"><text x="0" y="0" font-size="6.4" text-anchor="end" fill="#333">10<tspan font-size="4.10" dy="-2.6">2</tspan></text></g><line x1="441.59999999999997" y1="175.7" x2="444.4" y2="175.7" stroke="#222" stroke-width="0.9" /><g transform="translate(436.60 178.00) scale(0.62 1)"><text x="0" y="0" font-size="6.2" text-anchor="middle" fill="#333">0</text></g><line x1="441.59999999999997" y1="183.89999999999998" x2="444.4" y2="183.89999999999998" stroke="#222" stroke-width="0.9" /><g transform="translate(439.60 187.30) scale(0.62 1)"><text x="0" y="0" font-size="6.4" text-anchor="end" fill="#333">−10<tspan font-size="4.10" dy="-2.6">2</tspan></text></g><path d="M444.4 173.50L441.40 175.70L444.4 177.90z" fill="#111"/><line x1="477.38843692238527" y1="188.1" x2="477.38843692238527" y2="189.7" stroke="#444" stroke-width="0.7" /><line x1="480.5404704594819" y1="188.1" x2="480.5404704594819" y2="189.7" stroke="#444" stroke-width="0.7" /><line x1="482.77687384477053" y1="188.1" x2="482.77687384477053" y2="189.7" stroke="#444" stroke-width="0.7" /><line x1="484.5115630776147" y1="188.1" x2="484.5115630776147" y2="189.7" stroke="#444" stroke-width="0.7" /><line x1="485.9289073818672" y1="188.1" x2="485.9289073818672" y2="189.7" stroke="#444" stroke-width="0.7" /><line x1="487.1272549162552" y1="188.1" x2="487.1272549162552" y2="189.7" stroke="#444" stroke-width="0.7" /><line x1="488.16531076715574" y1="188.1" x2="488.16531076715574" y2="189.7" stroke="#444" stroke-width="0.7" /><line x1="489.0809409189639" y1="188.1" x2="489.0809409189639" y2="189.7" stroke="#444" stroke-width="0.7" /><line x1="495.01750992628763" y1="188.1" x2="495.01750992628763" y2="189.7" stroke="#444" stroke-width="0.7" /><line x1="498.0110613302342" y1="188.1" x2="498.0110613302342" y2="189.7" stroke="#444" stroke-width="0.7" /><line x1="500.13501985257534" y1="188.1" x2="500.13501985257534" y2="189.7" stroke="#444" stroke-width="0.7" /><line x1="501.7824900737123" y1="188.1" x2="501.7824900737123" y2="189.7" stroke="#444" stroke-width="0.7" /><line x1="503.1285712565219" y1="188.1" x2="503.1285712565219" y2="189.7" stroke="#444" stroke-width="0.7" /><line x1="504.26666668024234" y1="188.1" x2="504.26666668024234" y2="189.7" stroke="#444" stroke-width="0.7" /><line x1="505.252529778863" y1="188.1" x2="505.252529778863" y2="189.7" stroke="#444" stroke-width="0.7" /><line x1="506.1221226604685" y1="188.1" x2="506.1221226604685" y2="189.7" stroke="#444" stroke-width="0.7" /><line x1="512.0175099262876" y1="188.1" x2="512.0175099262876" y2="189.7" stroke="#444" stroke-width="0.7" /><line x1="451.5" y1="188.1" x2="451.5" y2="189.7" stroke="#444" stroke-width="0.7" /><line x1="465.2" y1="188.1" x2="465.2" y2="189.7" stroke="#444" stroke-width="0.7" /><line x1="444.6" y1="188.1" x2="444.6" y2="191.1" stroke="#222" stroke-width="0.9" /><g transform="translate(445.40 197.90) scale(0.62 1)"><text x="0" y="0" font-size="6.4" text-anchor="middle" fill="#333">−10<tspan font-size="4.10" dy="-2.6">2</tspan></text></g><line x1="458.4" y1="188.1" x2="458.4" y2="191.1" stroke="#222" stroke-width="0.9" /><g transform="translate(458.40 197.90) scale(0.62 1)"><text x="0" y="0" font-size="6.2" text-anchor="middle" fill="#333">0</text></g><line x1="472.0" y1="188.1" x2="472.0" y2="191.1" stroke="#222" stroke-width="0.9" /><g transform="translate(472.80 197.90) scale(0.62 1)"><text x="0" y="0" font-size="6.4" text-anchor="middle" fill="#333">10<tspan font-size="4.10" dy="-2.6">2</tspan></text></g><line x1="489.9" y1="188.1" x2="489.9" y2="191.1" stroke="#222" stroke-width="0.9" /><g transform="translate(490.70 197.90) scale(0.62 1)"><text x="0" y="0" font-size="6.4" text-anchor="middle" fill="#333">10<tspan font-size="4.10" dy="-2.6">3</tspan></text></g><line x1="506.9" y1="188.1" x2="506.9" y2="191.1" stroke="#222" stroke-width="0.9" /><g transform="translate(507.70 197.90) scale(0.62 1)"><text x="0" y="0" font-size="6.4" text-anchor="middle" fill="#333">10<tspan font-size="4.10" dy="-2.6">4</tspan></text></g><path d="M456.2 188.10L460.6 188.10L458.4 190.90z" fill="#111"/><text x="478.9" y="208.0" font-size="8.6" text-anchor="middle" font-weight="normal" fill="#222" textLength="29.6" lengthAdjust="spacingAndGlyphs" >PE-A hCD26</text><text x="428.0" y="154.04999999999998" font-size="7.0" text-anchor="middle" font-weight="normal" fill="#222" textLength="31.0" lengthAdjust="spacingAndGlyphs" transform="rotate(-90 428.0 154.04999999999998)" >FITC-A hCD7</text><path d="M462.1 132.2h0.9v0.9h-0.9zM466.9 134.6h0.9v0.9h-0.9zM472.2 136.3h0.9v0.9h-0.9zM459.5 138.0h0.9v0.9h-0.9zM460.7 148.8h0.9v0.9h-0.9zM471.8 145.3h0.9v0.9h-0.9zM467.6 134.6h0.9v0.9h-0.9zM460.8 139.5h0.9v0.9h-0.9zM457.2 144.8h0.9v0.9h-0.9zM459.1 138.8h0.9v0.9h-0.9zM456.6 132.0h0.9v0.9h-0.9zM469.8 149.0h0.9v0.9h-0.9zM466.4 137.4h0.9v0.9h-0.9zM474.7 143.8h0.9v0.9h-0.9zM472.4 149.7h0.9v0.9h-0.9zM474.0 140.1h0.9v0.9h-0.9zM473.4 146.2h0.9v0.9h-0.9zM452.7 140.3h0.9v0.9h-0.9zM493.3 144.3h0.9v0.9h-0.9zM501.3 140.4h0.9v0.9h-0.9zM490.8 149.9h0.9v0.9h-0.9zM500.5 150.6h0.9v0.9h-0.9zM493.7 148.9h0.9v0.9h-0.9zM507.3 152.7h0.9v0.9h-0.9zM498.2 145.8h0.9v0.9h-0.9zM498.4 148.7h0.9v0.9h-0.9zM503.2 145.0h0.9v0.9h-0.9zM493.6 147.7h0.9v0.9h-0.9zM497.1 147.2h0.9v0.9h-0.9zM500.1 151.2h0.9v0.9h-0.9zM503.6 142.9h0.9v0.9h-0.9zM500.4 151.8h0.9v0.9h-0.9zM496.9 146.4h0.9v0.9h-0.9zM503.8 149.7h0.9v0.9h-0.9zM501.1 139.4h0.9v0.9h-0.9zM494.0 145.7h0.9v0.9h-0.9zM500.5 154.9h0.9v0.9h-0.9zM495.6 149.3h0.9v0.9h-0.9zM502.1 138.0h0.9v0.9h-0.9zM495.7 145.4h0.9v0.9h-0.9zM497.0 144.1h0.9v0.9h-0.9zM500.9 141.5h0.9v0.9h-0.9zM500.9 142.2h0.9v0.9h-0.9zM496.8 146.8h0.9v0.9h-0.9zM496.7 145.8h0.9v0.9h-0.9zM505.4 144.8h0.9v0.9h-0.9zM498.4 147.6h0.9v0.9h-0.9zM497.5 149.0h0.9v0.9h-0.9zM493.9 147.2h0.9v0.9h-0.9zM497.0 141.5h0.9v0.9h-0.9zM506.1 141.3h0.9v0.9h-0.9zM506.0 147.3h0.9v0.9h-0.9zM504.8 140.8h0.9v0.9h-0.9zM503.8 150.5h0.9v0.9h-0.9zM498.5 144.2h0.9v0.9h-0.9zM508.8 145.4h0.9v0.9h-0.9zM497.3 142.2h0.9v0.9h-0.9zM500.8 146.0h0.9v0.9h-0.9zM469.6 169.9h0.9v0.9h-0.9zM465.0 163.7h0.9v0.9h-0.9zM481.1 156.3h0.9v0.9h-0.9zM477.3 170.5h0.9v0.9h-0.9zM455.8 155.8h0.9v0.9h-0.9zM458.7 152.1h0.9v0.9h-0.9zM472.1 152.0h0.9v0.9h-0.9zM472.5 168.6h0.9v0.9h-0.9zM453.5 159.7h0.9v0.9h-0.9zM450.7 165.2h0.9v0.9h-0.9zM461.4 160.0h0.9v0.9h-0.9zM468.5 164.0h0.9v0.9h-0.9zM464.9 161.4h0.9v0.9h-0.9zM463.1 161.9h0.9v0.9h-0.9zM457.4 161.6h0.9v0.9h-0.9zM450.6 158.8h0.9v0.9h-0.9zM485.2 161.7h0.9v0.9h-0.9zM456.7 162.6h0.9v0.9h-0.9zM459.2 153.0h0.9v0.9h-0.9zM461.4 165.0h0.9v0.9h-0.9zM471.5 160.8h0.9v0.9h-0.9zM459.7 155.9h0.9v0.9h-0.9zM480.1 162.5h0.9v0.9h-0.9zM459.4 150.7h0.9v0.9h-0.9zM455.7 173.7h0.9v0.9h-0.9zM457.7 160.9h0.9v0.9h-0.9zM469.9 160.5h0.9v0.9h-0.9zM465.5 154.4h0.9v0.9h-0.9zM458.5 169.7h0.9v0.9h-0.9zM461.2 165.5h0.9v0.9h-0.9zM452.8 159.9h0.9v0.9h-0.9zM470.3 166.5h0.9v0.9h-0.9zM457.9 164.3h0.9v0.9h-0.9zM471.5 157.6h0.9v0.9h-0.9zM472.3 156.8h0.9v0.9h-0.9zM492.2 161.2h0.9v0.9h-0.9zM480.7 160.9h0.9v0.9h-0.9zM491.0 155.4h0.9v0.9h-0.9zM494.4 164.4h0.9v0.9h-0.9zM494.6 166.4h0.9v0.9h-0.9zM490.0 156.1h0.9v0.9h-0.9zM506.3 162.9h0.9v0.9h-0.9zM502.7 158.0h0.9v0.9h-0.9zM501.8 162.3h0.9v0.9h-0.9zM500.9 161.4h0.9v0.9h-0.9zM504.2 158.7h0.9v0.9h-0.9zM491.2 155.4h0.9v0.9h-0.9zM504.0 158.3h0.9v0.9h-0.9zM490.7 157.5h0.9v0.9h-0.9zM494.3 156.2h0.9v0.9h-0.9zM495.3 158.8h0.9v0.9h-0.9zM493.7 157.5h0.9v0.9h-0.9zM497.2 159.5h0.9v0.9h-0.9zM497.7 162.3h0.9v0.9h-0.9zM499.0 152.5h0.9v0.9h-0.9zM493.8 158.1h0.9v0.9h-0.9zM501.6 155.0h0.9v0.9h-0.9z" fill="rgba(90,100,235,0.32)"/><line x1="444.4" y1="119.19999999999999" x2="513.8" y2="119.19999999999999" stroke="#5a5a5a" stroke-width="1.7" /><line x1="444.4" y1="118.69999999999999" x2="444.4" y2="188.7" stroke="#222" stroke-width="1.3" /><line x1="513.3" y1="118.69999999999999" x2="513.3" y2="188.7" stroke="#222" stroke-width="1.1" /><line x1="443.79999999999995" y1="188.1" x2="513.8" y2="188.1" stroke="#222" stroke-width="1.3" /><line x1="444.4" y1="153.0" x2="513.3" y2="153.0" stroke="#222" stroke-width="1.3" /><line x1="482.6" y1="119.19999999999999" x2="482.6" y2="188.1" stroke="#222" stroke-width="1.3" /><text x="460.2" y="126.60000000000001" font-size="5.9" text-anchor="middle" font-weight="normal" fill="#222" textLength="24.3" lengthAdjust="spacingAndGlyphs" >CD26- CD7+</text><text x="460.2" y="133.5" font-size="5.9" text-anchor="middle" font-weight="normal" fill="#222" textLength="7.4" lengthAdjust="spacingAndGlyphs" >14.2</text><text x="498.9" y="126.60000000000001" font-size="5.9" text-anchor="middle" font-weight="normal" fill="#222" textLength="24.9" lengthAdjust="spacingAndGlyphs" >CD26+ CD7+</text><text x="498.9" y="133.5" font-size="5.9" text-anchor="middle" font-weight="normal" fill="#222" textLength="7.4" lengthAdjust="spacingAndGlyphs" >36.7</text><text x="460.2" y="179.0" font-size="5.9" text-anchor="middle" font-weight="normal" fill="#222" textLength="24.3" lengthAdjust="spacingAndGlyphs" >CD26- CD7-</text><text x="460.2" y="185.9" font-size="5.9" text-anchor="middle" font-weight="normal" fill="#222" textLength="7.4" lengthAdjust="spacingAndGlyphs" >29.6</text><text x="499.2" y="179.0" font-size="5.9" text-anchor="middle" font-weight="normal" fill="#222" textLength="24.3" lengthAdjust="spacingAndGlyphs" >CD26+ CD7-</text><text x="499.2" y="185.9" font-size="5.9" text-anchor="middle" font-weight="normal" fill="#222" textLength="7.4" lengthAdjust="spacingAndGlyphs" >19.5</text><line x1="252.04" y1="286.4" x2="252.04" y2="288.0" stroke="#444" stroke-width="0.7" /><line x1="254.68" y1="286.4" x2="254.68" y2="288.0" stroke="#444" stroke-width="0.7" /><line x1="257.32" y1="286.4" x2="257.32" y2="288.0" stroke="#444" stroke-width="0.7" /><line x1="259.96" y1="286.4" x2="259.96" y2="288.0" stroke="#444" stroke-width="0.7" /><line x1="265.24" y1="286.4" x2="265.24" y2="288.0" stroke="#444" stroke-width="0.7" /><line x1="267.88" y1="286.4" x2="267.88" y2="288.0" stroke="#444" stroke-width="0.7" /><line x1="270.52" y1="286.4" x2="270.52" y2="288.0" stroke="#444" stroke-width="0.7" /><line x1="273.16" y1="286.4" x2="273.16" y2="288.0" stroke="#444" stroke-width="0.7" /><line x1="278.44" y1="286.4" x2="278.44" y2="288.0" stroke="#444" stroke-width="0.7" /><line x1="281.08" y1="286.4" x2="281.08" y2="288.0" stroke="#444" stroke-width="0.7" /><line x1="283.72" y1="286.4" x2="283.72" y2="288.0" stroke="#444" stroke-width="0.7" /><line x1="286.36" y1="286.4" x2="286.36" y2="288.0" stroke="#444" stroke-width="0.7" /><line x1="291.64" y1="286.4" x2="291.64" y2="288.0" stroke="#444" stroke-width="0.7" /><line x1="294.28" y1="286.4" x2="294.28" y2="288.0" stroke="#444" stroke-width="0.7" /><line x1="296.92" y1="286.4" x2="296.92" y2="288.0" stroke="#444" stroke-width="0.7" /><line x1="299.56" y1="286.4" x2="299.56" y2="288.0" stroke="#444" stroke-width="0.7" /><line x1="304.84000000000003" y1="286.4" x2="304.84000000000003" y2="288.0" stroke="#444" stroke-width="0.7" /><line x1="307.48" y1="286.4" x2="307.48" y2="288.0" stroke="#444" stroke-width="0.7" /><line x1="310.12" y1="286.4" x2="310.12" y2="288.0" stroke="#444" stroke-width="0.7" /><line x1="312.76" y1="286.4" x2="312.76" y2="288.0" stroke="#444" stroke-width="0.7" /><line x1="318.04" y1="286.4" x2="318.04" y2="288.0" stroke="#444" stroke-width="0.7" /><line x1="247.4" y1="253.27176907674755" x2="249.0" y2="253.27176907674755" stroke="#444" stroke-width="0.7" /><line x1="247.4" y1="250.15495379146196" x2="249.0" y2="250.15495379146196" stroke="#444" stroke-width="0.7" /><line x1="247.4" y1="247.94353815349507" x2="249.0" y2="247.94353815349507" stroke="#444" stroke-width="0.7" /><line x1="247.4" y1="246.22823092325245" x2="249.0" y2="246.22823092325245" stroke="#444" stroke-width="0.7" /><line x1="247.4" y1="244.8267228682095" x2="249.0" y2="244.8267228682095" stroke="#444" stroke-width="0.7" /><line x1="247.4" y1="243.64176469174765" x2="249.0" y2="243.64176469174765" stroke="#444" stroke-width="0.7" /><line x1="247.4" y1="242.6153072302426" x2="249.0" y2="242.6153072302426" stroke="#444" stroke-width="0.7" /><line x1="247.4" y1="241.70990758292393" x2="249.0" y2="241.70990758292393" stroke="#444" stroke-width="0.7" /><line x1="247.4" y1="235.87279907241148" x2="249.0" y2="235.87279907241148" stroke="#444" stroke-width="0.7" /><line x1="247.4" y1="232.9320750461816" x2="249.0" y2="232.9320750461816" stroke="#444" stroke-width="0.7" /><line x1="247.4" y1="230.84559814482301" x2="249.0" y2="230.84559814482301" stroke="#444" stroke-width="0.7" /><line x1="247.4" y1="229.22720092758846" x2="249.0" y2="229.22720092758846" stroke="#444" stroke-width="0.7" /><line x1="247.4" y1="227.90487411859314" x2="249.0" y2="227.90487411859314" stroke="#444" stroke-width="0.7" /><line x1="247.4" y1="226.7868627317619" x2="249.0" y2="226.7868627317619" stroke="#444" stroke-width="0.7" /><line x1="247.4" y1="225.81839721723452" x2="249.0" y2="225.81839721723452" stroke="#444" stroke-width="0.7" /><line x1="247.4" y1="224.96415009236327" x2="249.0" y2="224.96415009236327" stroke="#444" stroke-width="0.7" /><line x1="247.4" y1="219.1727990724115" x2="249.0" y2="219.1727990724115" stroke="#444" stroke-width="0.7" /><line x1="247.4" y1="265.4" x2="249.0" y2="265.4" stroke="#444" stroke-width="0.7" /><line x1="247.4" y1="278.9" x2="249.0" y2="278.9" stroke="#444" stroke-width="0.7" /><line x1="246.2" y1="224.2" x2="249.0" y2="224.2" stroke="#222" stroke-width="0.9" /><g transform="translate(244.20 227.60) scale(0.62 1)"><text x="0" y="0" font-size="6.4" text-anchor="end" fill="#333">10<tspan font-size="4.10" dy="-2.6">4</tspan></text></g><line x1="246.2" y1="240.89999999999998" x2="249.0" y2="240.89999999999998" stroke="#222" stroke-width="0.9" /><g transform="translate(244.20 244.30) scale(0.62 1)"><text x="0" y="0" font-size="6.4" text-anchor="end" fill="#333">10<tspan font-size="4.10" dy="-2.6">3</tspan></text></g><line x1="246.2" y1="258.6" x2="249.0" y2="258.6" stroke="#222" stroke-width="0.9" /><g transform="translate(244.20 262.00) scale(0.62 1)"><text x="0" y="0" font-size="6.4" text-anchor="end" fill="#333">10<tspan font-size="4.10" dy="-2.6">2</tspan></text></g><line x1="246.2" y1="272.2" x2="249.0" y2="272.2" stroke="#222" stroke-width="0.9" /><g transform="translate(241.20 274.50) scale(0.62 1)"><text x="0" y="0" font-size="6.2" text-anchor="middle" fill="#333">0</text></g><line x1="246.2" y1="285.6" x2="249.0" y2="285.6" stroke="#222" stroke-width="0.9" /><g transform="translate(244.20 289.00) scale(0.62 1)"><text x="0" y="0" font-size="6.4" text-anchor="end" fill="#333">−10<tspan font-size="4.10" dy="-2.6">2</tspan></text></g><path d="M249.0 270.00L246.00 272.20L249.0 274.40z" fill="#111"/><line x1="249.4" y1="286.4" x2="249.4" y2="289.4" stroke="#222" stroke-width="0.9" /><text x="249.4" y="296.0" font-size="5.6" text-anchor="middle" font-weight="normal" fill="#333" textLength="2.6" lengthAdjust="spacingAndGlyphs" >0</text><line x1="262.6" y1="286.4" x2="262.6" y2="289.4" stroke="#222" stroke-width="0.9" /><text x="262.6" y="296.0" font-size="5.6" text-anchor="middle" font-weight="normal" fill="#333" textLength="7.6" lengthAdjust="spacingAndGlyphs" >50K</text><line x1="275.8" y1="286.4" x2="275.8" y2="289.4" stroke="#222" stroke-width="0.9" /><text x="275.8" y="296.0" font-size="5.6" text-anchor="middle" font-weight="normal" fill="#333" textLength="9.9" lengthAdjust="spacingAndGlyphs" >100K</text><line x1="289.0" y1="286.4" x2="289.0" y2="289.4" stroke="#222" stroke-width="0.9" /><text x="289.0" y="296.0" font-size="5.6" text-anchor="middle" font-weight="normal" fill="#333" textLength="9.9" lengthAdjust="spacingAndGlyphs" >150K</text><line x1="302.2" y1="286.4" x2="302.2" y2="289.4" stroke="#222" stroke-width="0.9" /><text x="302.2" y="296.0" font-size="5.6" text-anchor="middle" font-weight="normal" fill="#333" textLength="9.9" lengthAdjust="spacingAndGlyphs" >200K</text><line x1="315.4" y1="286.4" x2="315.4" y2="289.4" stroke="#222" stroke-width="0.9" /><text x="315.4" y="296.0" font-size="5.6" text-anchor="middle" font-weight="normal" fill="#333" textLength="9.9" lengthAdjust="spacingAndGlyphs" >250K</text><text x="283.3" y="306.2" font-size="8.2" text-anchor="middle" font-weight="normal" fill="#222" textLength="15.8" lengthAdjust="spacingAndGlyphs" >FSC-A</text><text x="232.8" y="251.75" font-size="7.0" text-anchor="middle" font-weight="normal" fill="#222" textLength="33.0" lengthAdjust="spacingAndGlyphs" transform="rotate(-90 232.8 251.75)" >PE-A hCD26</text><path d="M268.9 227.8h0.9v0.9h-0.9zM270.0 221.5h0.9v0.9h-0.9zM269.1 228.2h0.9v0.9h-0.9zM269.2 227.9h0.9v0.9h-0.9zM270.7 230.3h0.9v0.9h-0.9zM270.9 229.7h0.9v0.9h-0.9zM269.5 227.5h0.9v0.9h-0.9zM269.5 226.5h0.9v0.9h-0.9zM269.6 221.6h0.9v0.9h-0.9zM269.4 227.5h0.9v0.9h-0.9zM268.6 227.5h0.9v0.9h-0.9zM270.4 227.0h0.9v0.9h-0.9zM269.6 221.2h0.9v0.9h-0.9zM271.0 236.9h0.9v0.9h-0.9zM266.8 228.0h0.9v0.9h-0.9zM270.4 226.5h0.9v0.9h-0.9zM270.5 219.7h0.9v0.9h-0.9zM270.8 228.9h0.9v0.9h-0.9zM269.8 225.5h0.9v0.9h-0.9zM270.6 225.9h0.9v0.9h-0.9zM270.1 225.8h0.9v0.9h-0.9zM267.1 227.5h0.9v0.9h-0.9zM270.0 230.2h0.9v0.9h-0.9zM268.7 227.5h0.9v0.9h-0.9zM270.5 228.1h0.9v0.9h-0.9zM271.5 254.6h0.9v0.9h-0.9zM268.9 238.9h0.9v0.9h-0.9zM271.0 252.7h0.9v0.9h-0.9zM271.1 249.9h0.9v0.9h-0.9zM269.3 243.7h0.9v0.9h-0.9zM271.1 243.0h0.9v0.9h-0.9zM267.8 242.6h0.9v0.9h-0.9zM273.0 254.3h0.9v0.9h-0.9z" fill="rgba(90,100,235,0.32)"/><line x1="249.0" y1="217.5" x2="319.1" y2="217.5" stroke="#5a5a5a" stroke-width="1.7" /><line x1="249.0" y1="217.0" x2="249.0" y2="287.0" stroke="#222" stroke-width="1.3" /><line x1="318.6" y1="217.0" x2="318.6" y2="287.0" stroke="#222" stroke-width="1.1" /><line x1="248.4" y1="286.4" x2="319.1" y2="286.4" stroke="#222" stroke-width="1.3" /><rect x="254.5" y="246.39999999999998" width="44.10000000000002" height="36.60000000000002" fill="none" stroke="#111" stroke-width="1.1" /><text x="307.0" y="256.9" font-size="5.9" text-anchor="middle" font-weight="normal" fill="#222" textLength="12.1" lengthAdjust="spacingAndGlyphs" >CD26-</text><text x="307.0" y="263.8" font-size="5.9" text-anchor="middle" font-weight="normal" fill="#222" textLength="8.0" lengthAdjust="spacingAndGlyphs" >12.2</text><line x1="349.72400000000005" y1="286.4" x2="349.72400000000005" y2="288.0" stroke="#444" stroke-width="0.7" /><line x1="352.348" y1="286.4" x2="352.348" y2="288.0" stroke="#444" stroke-width="0.7" /><line x1="354.97200000000004" y1="286.4" x2="354.97200000000004" y2="288.0" stroke="#444" stroke-width="0.7" /><line x1="357.596" y1="286.4" x2="357.596" y2="288.0" stroke="#444" stroke-width="0.7" /><line x1="362.84400000000005" y1="286.4" x2="362.84400000000005" y2="288.0" stroke="#444" stroke-width="0.7" /><line x1="365.468" y1="286.4" x2="365.468" y2="288.0" stroke="#444" stroke-width="0.7" /><line x1="368.09200000000004" y1="286.4" x2="368.09200000000004" y2="288.0" stroke="#444" stroke-width="0.7" /><line x1="370.716" y1="286.4" x2="370.716" y2="288.0" stroke="#444" stroke-width="0.7" /><line x1="375.964" y1="286.4" x2="375.964" y2="288.0" stroke="#444" stroke-width="0.7" /><line x1="378.588" y1="286.4" x2="378.588" y2="288.0" stroke="#444" stroke-width="0.7" /><line x1="381.21200000000005" y1="286.4" x2="381.21200000000005" y2="288.0" stroke="#444" stroke-width="0.7" /><line x1="383.836" y1="286.4" x2="383.836" y2="288.0" stroke="#444" stroke-width="0.7" /><line x1="389.084" y1="286.4" x2="389.084" y2="288.0" stroke="#444" stroke-width="0.7" /><line x1="391.708" y1="286.4" x2="391.708" y2="288.0" stroke="#444" stroke-width="0.7" /><line x1="394.332" y1="286.4" x2="394.332" y2="288.0" stroke="#444" stroke-width="0.7" /><line x1="396.956" y1="286.4" x2="396.956" y2="288.0" stroke="#444" stroke-width="0.7" /><line x1="402.204" y1="286.4" x2="402.204" y2="288.0" stroke="#444" stroke-width="0.7" /><line x1="404.82800000000003" y1="286.4" x2="404.82800000000003" y2="288.0" stroke="#444" stroke-width="0.7" /><line x1="407.452" y1="286.4" x2="407.452" y2="288.0" stroke="#444" stroke-width="0.7" /><line x1="410.076" y1="286.4" x2="410.076" y2="288.0" stroke="#444" stroke-width="0.7" /><line x1="415.324" y1="286.4" x2="415.324" y2="288.0" stroke="#444" stroke-width="0.7" /><line x1="345.5" y1="259.02476510623245" x2="347.1" y2="259.02476510623245" stroke="#444" stroke-width="0.7" /><line x1="345.5" y1="254.71052925936826" x2="347.1" y2="254.71052925936826" stroke="#444" stroke-width="0.7" /><line x1="345.5" y1="251.6495302124649" x2="347.1" y2="251.6495302124649" stroke="#444" stroke-width="0.7" /><line x1="345.5" y1="249.2752348937675" x2="347.1" y2="249.2752348937675" stroke="#444" stroke-width="0.7" /><line x1="345.5" y1="247.3352943656007" x2="347.1" y2="247.3352943656007" stroke="#444" stroke-width="0.7" /><line x1="345.5" y1="245.6950980196507" x2="347.1" y2="245.6950980196507" stroke="#444" stroke-width="0.7" /><line x1="345.5" y1="244.27429531869737" x2="347.1" y2="244.27429531869737" stroke="#444" stroke-width="0.7" /><line x1="345.5" y1="243.0210585187365" x2="347.1" y2="243.0210585187365" stroke="#444" stroke-width="0.7" /><line x1="345.5" y1="236.9330050715443" x2="347.1" y2="236.9330050715443" stroke="#444" stroke-width="0.7" /><line x1="345.5" y1="234.02749929712556" x2="347.1" y2="234.02749929712556" stroke="#444" stroke-width="0.7" /><line x1="345.5" y1="231.96601014308862" x2="347.1" y2="231.96601014308862" stroke="#444" stroke-width="0.7" /><line x1="345.5" y1="230.36699492845568" x2="347.1" y2="230.36699492845568" stroke="#444" stroke-width="0.7" /><line x1="345.5" y1="229.06050436866988" x2="347.1" y2="229.06050436866988" stroke="#444" stroke-width="0.7" /><line x1="345.5" y1="227.95588233976477" x2="347.1" y2="227.95588233976477" stroke="#444" stroke-width="0.7" /><line x1="345.5" y1="226.99901521463295" x2="347.1" y2="226.99901521463295" stroke="#444" stroke-width="0.7" /><line x1="345.5" y1="226.15499859425114" x2="347.1" y2="226.15499859425114" stroke="#444" stroke-width="0.7" /><line x1="345.5" y1="220.43300507154433" x2="347.1" y2="220.43300507154433" stroke="#444" stroke-width="0.7" /><line x1="345.5" y1="270.2" x2="347.1" y2="270.2" stroke="#444" stroke-width="0.7" /><line x1="345.5" y1="278.1" x2="347.1" y2="278.1" stroke="#444" stroke-width="0.7" /><line x1="344.3" y1="225.4" x2="347.1" y2="225.4" stroke="#222" stroke-width="0.9" /><g transform="translate(342.30 228.80) scale(0.62 1)"><text x="0" y="0" font-size="6.4" text-anchor="end" fill="#333">10<tspan font-size="4.10" dy="-2.6">4</tspan></text></g><line x1="344.3" y1="241.89999999999998" x2="347.1" y2="241.89999999999998" stroke="#222" stroke-width="0.9" /><g transform="translate(342.30 245.30) scale(0.62 1)"><text x="0" y="0" font-size="6.4" text-anchor="end" fill="#333">10<tspan font-size="4.10" dy="-2.6">3</tspan></text></g><line x1="344.3" y1="266.4" x2="347.1" y2="266.4" stroke="#222" stroke-width="0.9" /><g transform="translate(342.30 269.80) scale(0.62 1)"><text x="0" y="0" font-size="6.4" text-anchor="end" fill="#333">10<tspan font-size="4.10" dy="-2.6">2</tspan></text></g><line x1="344.3" y1="274.0" x2="347.1" y2="274.0" stroke="#222" stroke-width="0.9" /><g transform="translate(339.30 276.30) scale(0.62 1)"><text x="0" y="0" font-size="6.2" text-anchor="middle" fill="#333">0</text></g><line x1="344.3" y1="282.2" x2="347.1" y2="282.2" stroke="#222" stroke-width="0.9" /><g transform="translate(342.30 285.60) scale(0.62 1)"><text x="0" y="0" font-size="6.4" text-anchor="end" fill="#333">−10<tspan font-size="4.10" dy="-2.6">2</tspan></text></g><path d="M347.1 271.80L344.10 274.00L347.1 276.20z" fill="#111"/><line x1="347.1" y1="286.4" x2="347.1" y2="289.4" stroke="#222" stroke-width="0.9" /><text x="347.1" y="296.0" font-size="5.6" text-anchor="middle" font-weight="normal" fill="#333" textLength="2.6" lengthAdjust="spacingAndGlyphs" >0</text><line x1="360.22" y1="286.4" x2="360.22" y2="289.4" stroke="#222" stroke-width="0.9" /><text x="360.22" y="296.0" font-size="5.6" text-anchor="middle" font-weight="normal" fill="#333" textLength="7.6" lengthAdjust="spacingAndGlyphs" >50K</text><line x1="373.34000000000003" y1="286.4" x2="373.34000000000003" y2="289.4" stroke="#222" stroke-width="0.9" /><text x="373.34000000000003" y="296.0" font-size="5.6" text-anchor="middle" font-weight="normal" fill="#333" textLength="9.9" lengthAdjust="spacingAndGlyphs" >100K</text><line x1="386.46000000000004" y1="286.4" x2="386.46000000000004" y2="289.4" stroke="#222" stroke-width="0.9" /><text x="386.46000000000004" y="296.0" font-size="5.6" text-anchor="middle" font-weight="normal" fill="#333" textLength="9.9" lengthAdjust="spacingAndGlyphs" >150K</text><line x1="399.58000000000004" y1="286.4" x2="399.58000000000004" y2="289.4" stroke="#222" stroke-width="0.9" /><text x="399.58000000000004" y="296.0" font-size="5.6" text-anchor="middle" font-weight="normal" fill="#333" textLength="9.9" lengthAdjust="spacingAndGlyphs" >200K</text><line x1="412.70000000000005" y1="286.4" x2="412.70000000000005" y2="289.4" stroke="#222" stroke-width="0.9" /><text x="412.70000000000005" y="296.0" font-size="5.6" text-anchor="middle" font-weight="normal" fill="#333" textLength="9.9" lengthAdjust="spacingAndGlyphs" >250K</text><text x="381.25" y="306.2" font-size="8.2" text-anchor="middle" font-weight="normal" fill="#222" textLength="15.8" lengthAdjust="spacingAndGlyphs" >FSC-A</text><text x="331.2" y="252.35" font-size="7.0" text-anchor="middle" font-weight="normal" fill="#222" textLength="31.0" lengthAdjust="spacingAndGlyphs" transform="rotate(-90 331.2 252.35)" >FITC-A hCD7</text><path d="M367.0 238.0h0.9v0.9h-0.9zM368.2 237.9h0.9v0.9h-0.9zM369.6 241.2h0.9v0.9h-0.9zM366.5 248.1h0.9v0.9h-0.9zM367.1 242.7h0.9v0.9h-0.9zM367.9 240.0h0.9v0.9h-0.9zM368.3 238.1h0.9v0.9h-0.9zM365.5 230.6h0.9v0.9h-0.9zM366.3 237.8h0.9v0.9h-0.9zM367.9 241.9h0.9v0.9h-0.9zM368.6 242.2h0.9v0.9h-0.9zM366.9 238.1h0.9v0.9h-0.9zM365.1 240.8h0.9v0.9h-0.9zM368.5 244.2h0.9v0.9h-0.9zM367.7 240.7h0.9v0.9h-0.9zM369.1 241.7h0.9v0.9h-0.9zM368.9 244.5h0.9v0.9h-0.9zM368.2 248.1h0.9v0.9h-0.9zM367.2 239.8h0.9v0.9h-0.9zM366.8 237.6h0.9v0.9h-0.9zM369.9 250.4h0.9v0.9h-0.9zM367.9 244.4h0.9v0.9h-0.9zM369.4 245.6h0.9v0.9h-0.9zM369.5 235.3h0.9v0.9h-0.9zM367.1 243.9h0.9v0.9h-0.9zM369.8 242.1h0.9v0.9h-0.9zM366.8 239.8h0.9v0.9h-0.9zM367.0 237.3h0.9v0.9h-0.9zM369.9 238.5h0.9v0.9h-0.9zM367.9 252.4h0.9v0.9h-0.9zM369.3 255.9h0.9v0.9h-0.9zM367.0 256.2h0.9v0.9h-0.9zM369.9 257.1h0.9v0.9h-0.9zM369.4 255.0h0.9v0.9h-0.9zM368.5 253.8h0.9v0.9h-0.9zM368.4 259.8h0.9v0.9h-0.9zM365.9 254.3h0.9v0.9h-0.9zM368.1 252.3h0.9v0.9h-0.9z" fill="rgba(90,100,235,0.32)"/><line x1="347.1" y1="217.5" x2="416.9" y2="217.5" stroke="#5a5a5a" stroke-width="1.7" /><line x1="347.1" y1="217.0" x2="347.1" y2="287.0" stroke="#222" stroke-width="1.3" /><line x1="416.4" y1="217.0" x2="416.4" y2="287.0" stroke="#222" stroke-width="1.1" /><line x1="346.5" y1="286.4" x2="416.9" y2="286.4" stroke="#222" stroke-width="1.3" /><rect x="355.4" y="250.8" width="34.5" height="31.099999999999966" fill="none" stroke="#111" stroke-width="1.1" /><text x="397.2" y="262.0" font-size="5.9" text-anchor="middle" font-weight="normal" fill="#222" textLength="9.0" lengthAdjust="spacingAndGlyphs" >CD7-</text><text x="397.2" y="268.90000000000003" font-size="5.9" text-anchor="middle" font-weight="normal" fill="#222" textLength="8.0" lengthAdjust="spacingAndGlyphs" >12.7</text><line x1="442.79999999999995" y1="259.02476510623245" x2="444.4" y2="259.02476510623245" stroke="#444" stroke-width="0.7" /><line x1="442.79999999999995" y1="254.71052925936826" x2="444.4" y2="254.71052925936826" stroke="#444" stroke-width="0.7" /><line x1="442.79999999999995" y1="251.6495302124649" x2="444.4" y2="251.6495302124649" stroke="#444" stroke-width="0.7" /><line x1="442.79999999999995" y1="249.2752348937675" x2="444.4" y2="249.2752348937675" stroke="#444" stroke-width="0.7" /><line x1="442.79999999999995" y1="247.3352943656007" x2="444.4" y2="247.3352943656007" stroke="#444" stroke-width="0.7" /><line x1="442.79999999999995" y1="245.6950980196507" x2="444.4" y2="245.6950980196507" stroke="#444" stroke-width="0.7" /><line x1="442.79999999999995" y1="244.27429531869737" x2="444.4" y2="244.27429531869737" stroke="#444" stroke-width="0.7" /><line x1="442.79999999999995" y1="243.0210585187365" x2="444.4" y2="243.0210585187365" stroke="#444" stroke-width="0.7" /><line x1="442.79999999999995" y1="236.9330050715443" x2="444.4" y2="236.9330050715443" stroke="#444" stroke-width="0.7" /><line x1="442.79999999999995" y1="234.02749929712556" x2="444.4" y2="234.02749929712556" stroke="#444" stroke-width="0.7" /><line x1="442.79999999999995" y1="231.96601014308862" x2="444.4" y2="231.96601014308862" stroke="#444" stroke-width="0.7" /><line x1="442.79999999999995" y1="230.36699492845568" x2="444.4" y2="230.36699492845568" stroke="#444" stroke-width="0.7" /><line x1="442.79999999999995" y1="229.06050436866988" x2="444.4" y2="229.06050436866988" stroke="#444" stroke-width="0.7" /><line x1="442.79999999999995" y1="227.95588233976477" x2="444.4" y2="227.95588233976477" stroke="#444" stroke-width="0.7" /><line x1="442.79999999999995" y1="226.99901521463295" x2="444.4" y2="226.99901521463295" stroke="#444" stroke-width="0.7" /><line x1="442.79999999999995" y1="226.15499859425114" x2="444.4" y2="226.15499859425114" stroke="#444" stroke-width="0.7" /><line x1="442.79999999999995" y1="220.43300507154433" x2="444.4" y2="220.43300507154433" stroke="#444" stroke-width="0.7" /><line x1="442.79999999999995" y1="270.2" x2="444.4" y2="270.2" stroke="#444" stroke-width="0.7" /><line x1="442.79999999999995" y1="278.1" x2="444.4" y2="278.1" stroke="#444" stroke-width="0.7" /><line x1="441.59999999999997" y1="225.4" x2="444.4" y2="225.4" stroke="#222" stroke-width="0.9" /><g transform="translate(439.60 228.80) scale(0.62 1)"><text x="0" y="0" font-size="6.4" text-anchor="end" fill="#333">10<tspan font-size="4.10" dy="-2.6">4</tspan></text></g><line x1="441.59999999999997" y1="241.89999999999998" x2="444.4" y2="241.89999999999998" stroke="#222" stroke-width="0.9" /><g transform="translate(439.60 245.30) scale(0.62 1)"><text x="0" y="0" font-size="6.4" text-anchor="end" fill="#333">10<tspan font-size="4.10" dy="-2.6">3</tspan></text></g><line x1="441.59999999999997" y1="266.4" x2="444.4" y2="266.4" stroke="#222" stroke-width="0.9" /><g transform="translate(439.60 269.80) scale(0.62 1)"><text x="0" y="0" font-size="6.4" text-anchor="end" fill="#333">10<tspan font-size="4.10" dy="-2.6">2</tspan></text></g><line x1="441.59999999999997" y1="274.0" x2="444.4" y2="274.0" stroke="#222" stroke-width="0.9" /><g transform="translate(436.60 276.30) scale(0.62 1)"><text x="0" y="0" font-size="6.2" text-anchor="middle" fill="#333">0</text></g><line x1="441.59999999999997" y1="282.2" x2="444.4" y2="282.2" stroke="#222" stroke-width="0.9" /><g transform="translate(439.60 285.60) scale(0.62 1)"><text x="0" y="0" font-size="6.4" text-anchor="end" fill="#333">−10<tspan font-size="4.10" dy="-2.6">2</tspan></text></g><path d="M444.4 271.80L441.40 274.00L444.4 276.20z" fill="#111"/><line x1="477.38843692238527" y1="286.4" x2="477.38843692238527" y2="288.0" stroke="#444" stroke-width="0.7" /><line x1="480.5404704594819" y1="286.4" x2="480.5404704594819" y2="288.0" stroke="#444" stroke-width="0.7" /><line x1="482.77687384477053" y1="286.4" x2="482.77687384477053" y2="288.0" stroke="#444" stroke-width="0.7" /><line x1="484.5115630776147" y1="286.4" x2="484.5115630776147" y2="288.0" stroke="#444" stroke-width="0.7" /><line x1="485.9289073818672" y1="286.4" x2="485.9289073818672" y2="288.0" stroke="#444" stroke-width="0.7" /><line x1="487.1272549162552" y1="286.4" x2="487.1272549162552" y2="288.0" stroke="#444" stroke-width="0.7" /><line x1="488.16531076715574" y1="286.4" x2="488.16531076715574" y2="288.0" stroke="#444" stroke-width="0.7" /><line x1="489.0809409189639" y1="286.4" x2="489.0809409189639" y2="288.0" stroke="#444" stroke-width="0.7" /><line x1="495.01750992628763" y1="286.4" x2="495.01750992628763" y2="288.0" stroke="#444" stroke-width="0.7" /><line x1="498.0110613302342" y1="286.4" x2="498.0110613302342" y2="288.0" stroke="#444" stroke-width="0.7" /><line x1="500.13501985257534" y1="286.4" x2="500.13501985257534" y2="288.0" stroke="#444" stroke-width="0.7" /><line x1="501.7824900737123" y1="286.4" x2="501.7824900737123" y2="288.0" stroke="#444" stroke-width="0.7" /><line x1="503.1285712565219" y1="286.4" x2="503.1285712565219" y2="288.0" stroke="#444" stroke-width="0.7" /><line x1="504.26666668024234" y1="286.4" x2="504.26666668024234" y2="288.0" stroke="#444" stroke-width="0.7" /><line x1="505.252529778863" y1="286.4" x2="505.252529778863" y2="288.0" stroke="#444" stroke-width="0.7" /><line x1="506.1221226604685" y1="286.4" x2="506.1221226604685" y2="288.0" stroke="#444" stroke-width="0.7" /><line x1="512.0175099262876" y1="286.4" x2="512.0175099262876" y2="288.0" stroke="#444" stroke-width="0.7" /><line x1="451.5" y1="286.4" x2="451.5" y2="288.0" stroke="#444" stroke-width="0.7" /><line x1="465.2" y1="286.4" x2="465.2" y2="288.0" stroke="#444" stroke-width="0.7" /><line x1="444.6" y1="286.4" x2="444.6" y2="289.4" stroke="#222" stroke-width="0.9" /><g transform="translate(445.40 296.20) scale(0.62 1)"><text x="0" y="0" font-size="6.4" text-anchor="middle" fill="#333">−10<tspan font-size="4.10" dy="-2.6">2</tspan></text></g><line x1="458.4" y1="286.4" x2="458.4" y2="289.4" stroke="#222" stroke-width="0.9" /><g transform="translate(458.40 296.20) scale(0.62 1)"><text x="0" y="0" font-size="6.2" text-anchor="middle" fill="#333">0</text></g><line x1="472.0" y1="286.4" x2="472.0" y2="289.4" stroke="#222" stroke-width="0.9" /><g transform="translate(472.80 296.20) scale(0.62 1)"><text x="0" y="0" font-size="6.4" text-anchor="middle" fill="#333">10<tspan font-size="4.10" dy="-2.6">2</tspan></text></g><line x1="489.9" y1="286.4" x2="489.9" y2="289.4" stroke="#222" stroke-width="0.9" /><g transform="translate(490.70 296.20) scale(0.62 1)"><text x="0" y="0" font-size="6.4" text-anchor="middle" fill="#333">10<tspan font-size="4.10" dy="-2.6">3</tspan></text></g><line x1="506.9" y1="286.4" x2="506.9" y2="289.4" stroke="#222" stroke-width="0.9" /><g transform="translate(507.70 296.20) scale(0.62 1)"><text x="0" y="0" font-size="6.4" text-anchor="middle" fill="#333">10<tspan font-size="4.10" dy="-2.6">4</tspan></text></g><path d="M456.2 286.40L460.6 286.40L458.4 289.20z" fill="#111"/><text x="478.9" y="306.29999999999995" font-size="8.6" text-anchor="middle" font-weight="normal" fill="#222" textLength="29.6" lengthAdjust="spacingAndGlyphs" >PE-A hCD26</text><text x="428.0" y="252.35" font-size="7.0" text-anchor="middle" font-weight="normal" fill="#222" textLength="31.0" lengthAdjust="spacingAndGlyphs" transform="rotate(-90 428.0 252.35)" >FITC-A hCD7</text><path d="M470.7 240.1h0.9v0.9h-0.9zM473.0 246.6h0.9v0.9h-0.9zM472.3 246.4h0.9v0.9h-0.9zM466.2 232.5h0.9v0.9h-0.9zM482.3 243.8h0.9v0.9h-0.9zM501.8 242.0h0.9v0.9h-0.9zM501.8 235.3h0.9v0.9h-0.9zM503.9 238.7h0.9v0.9h-0.9zM504.0 241.8h0.9v0.9h-0.9zM490.7 235.0h0.9v0.9h-0.9zM504.7 240.7h0.9v0.9h-0.9zM497.8 242.6h0.9v0.9h-0.9zM497.7 238.7h0.9v0.9h-0.9zM500.1 242.1h0.9v0.9h-0.9zM506.4 241.6h0.9v0.9h-0.9zM508.1 250.4h0.9v0.9h-0.9zM507.3 246.7h0.9v0.9h-0.9zM500.2 242.1h0.9v0.9h-0.9zM499.0 237.7h0.9v0.9h-0.9zM499.3 238.2h0.9v0.9h-0.9zM507.0 244.1h0.9v0.9h-0.9zM497.6 231.8h0.9v0.9h-0.9zM499.4 239.3h0.9v0.9h-0.9zM494.7 235.7h0.9v0.9h-0.9zM489.5 244.2h0.9v0.9h-0.9zM499.3 254.3h0.9v0.9h-0.9zM499.5 240.7h0.9v0.9h-0.9zM506.1 242.1h0.9v0.9h-0.9zM500.4 239.5h0.9v0.9h-0.9zM496.9 248.9h0.9v0.9h-0.9zM504.1 250.0h0.9v0.9h-0.9zM498.0 241.6h0.9v0.9h-0.9zM495.6 246.2h0.9v0.9h-0.9zM493.3 244.2h0.9v0.9h-0.9zM504.5 248.5h0.9v0.9h-0.9zM495.4 246.8h0.9v0.9h-0.9zM496.4 237.6h0.9v0.9h-0.9zM493.6 247.2h0.9v0.9h-0.9zM507.0 238.4h0.9v0.9h-0.9zM496.2 239.7h0.9v0.9h-0.9zM510.9 246.4h0.9v0.9h-0.9zM497.2 232.4h0.9v0.9h-0.9zM496.6 247.3h0.9v0.9h-0.9zM508.0 240.1h0.9v0.9h-0.9zM496.5 238.9h0.9v0.9h-0.9zM458.7 262.2h0.9v0.9h-0.9zM463.5 262.9h0.9v0.9h-0.9zM459.8 253.5h0.9v0.9h-0.9zM495.7 255.5h0.9v0.9h-0.9zM498.7 258.6h0.9v0.9h-0.9zM487.0 261.1h0.9v0.9h-0.9zM499.1 250.9h0.9v0.9h-0.9zM505.0 260.6h0.9v0.9h-0.9zM498.6 251.2h0.9v0.9h-0.9z" fill="rgba(90,100,235,0.32)"/><line x1="444.4" y1="217.5" x2="513.8" y2="217.5" stroke="#5a5a5a" stroke-width="1.7" /><line x1="444.4" y1="217.0" x2="444.4" y2="287.0" stroke="#222" stroke-width="1.3" /><line x1="513.3" y1="217.0" x2="513.3" y2="287.0" stroke="#222" stroke-width="1.1" /><line x1="443.79999999999995" y1="286.4" x2="513.8" y2="286.4" stroke="#222" stroke-width="1.3" /><line x1="444.4" y1="251.3" x2="513.3" y2="251.3" stroke="#222" stroke-width="1.3" /><line x1="482.6" y1="217.5" x2="482.6" y2="286.4" stroke="#222" stroke-width="1.3" /><text x="460.2" y="224.89999999999998" font-size="5.9" text-anchor="middle" font-weight="normal" fill="#222" textLength="24.3" lengthAdjust="spacingAndGlyphs" >CD26- CD7+</text><text x="460.2" y="231.79999999999998" font-size="5.9" text-anchor="middle" font-weight="normal" fill="#222" textLength="7.4" lengthAdjust="spacingAndGlyphs" >9.76</text><text x="498.9" y="224.89999999999998" font-size="5.9" text-anchor="middle" font-weight="normal" fill="#222" textLength="24.9" lengthAdjust="spacingAndGlyphs" >CD26+ CD7+</text><text x="498.9" y="231.79999999999998" font-size="5.9" text-anchor="middle" font-weight="normal" fill="#222" textLength="7.4" lengthAdjust="spacingAndGlyphs" >80.5</text><text x="460.2" y="277.3" font-size="5.9" text-anchor="middle" font-weight="normal" fill="#222" textLength="24.3" lengthAdjust="spacingAndGlyphs" >CD26- CD7-</text><text x="460.2" y="284.20000000000005" font-size="5.9" text-anchor="middle" font-weight="normal" fill="#222" textLength="7.4" lengthAdjust="spacingAndGlyphs" >2.44</text><text x="499.2" y="277.3" font-size="5.9" text-anchor="middle" font-weight="normal" fill="#222" textLength="24.3" lengthAdjust="spacingAndGlyphs" >CD26+ CD7-</text><text x="499.2" y="284.20000000000005" font-size="5.9" text-anchor="middle" font-weight="normal" fill="#222" textLength="7.4" lengthAdjust="spacingAndGlyphs" >7.32</text></g>
<rect x="0.5" y="0.5" width="519" height="312" fill="none" stroke="#000" stroke-width="1"/>
</svg>
</body></html>
